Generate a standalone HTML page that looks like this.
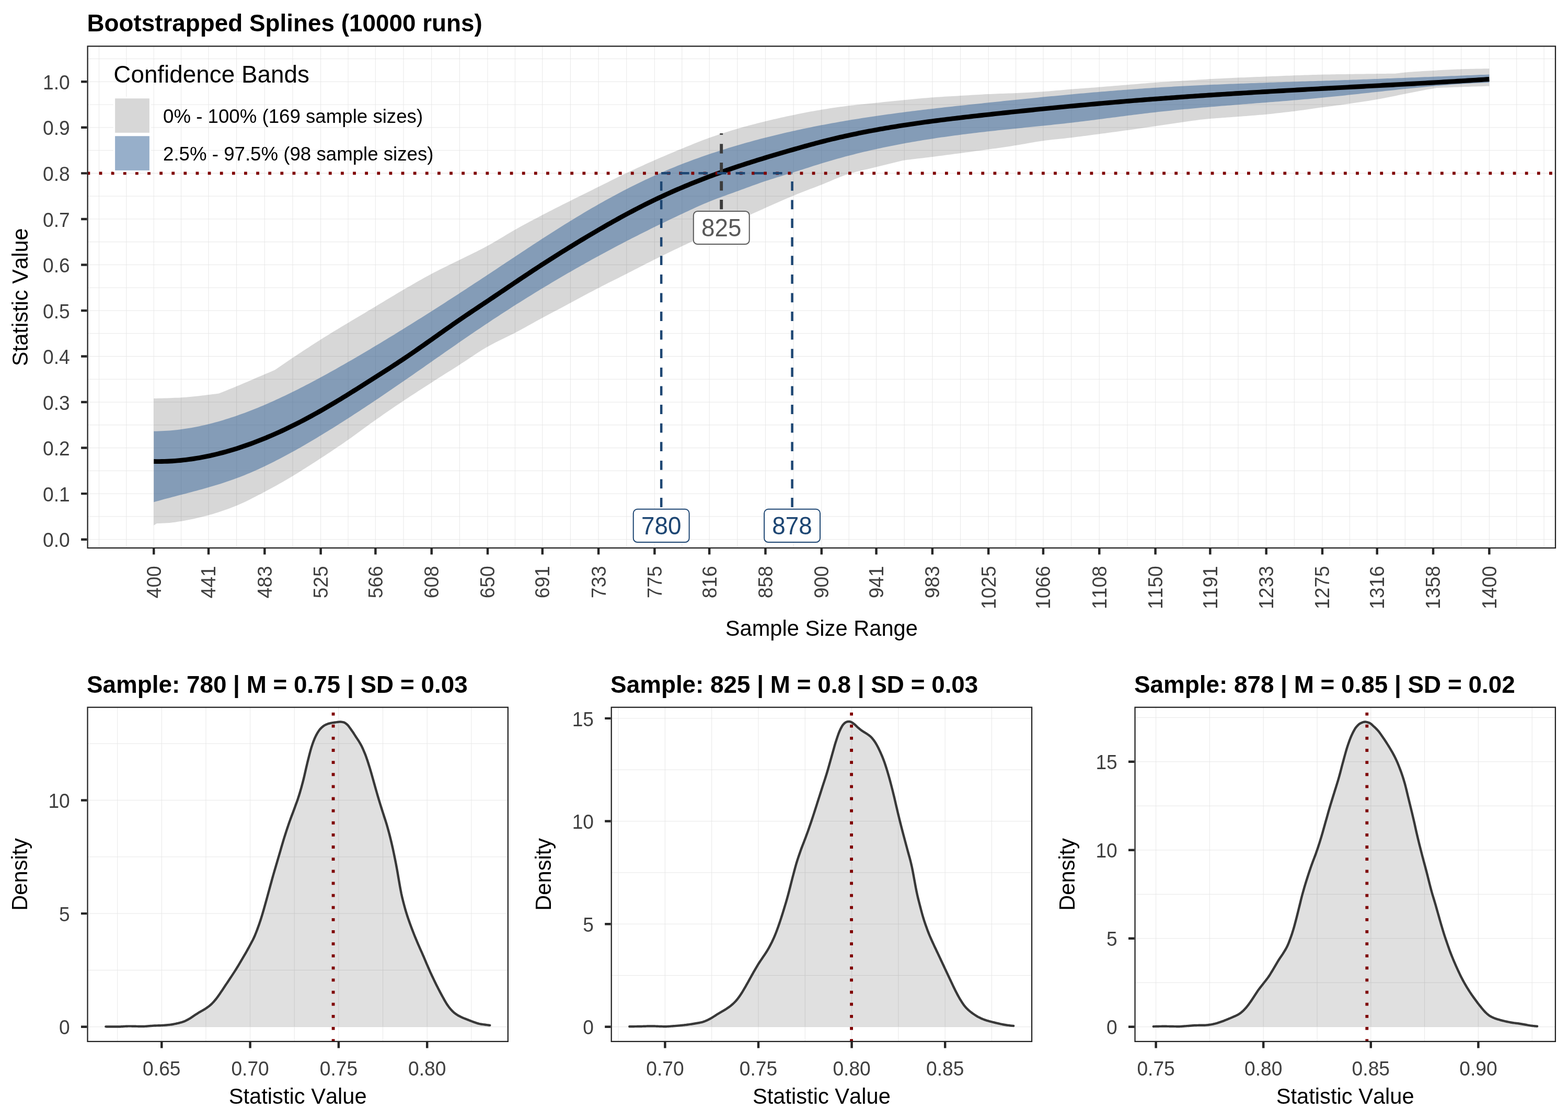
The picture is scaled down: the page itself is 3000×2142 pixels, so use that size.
<!DOCTYPE html>
<html lang="en">
<head>
<meta charset="utf-8">
<title>Bootstrapped Splines (10000 runs)</title>
<style>
html,body{margin:0;padding:0;background:#ffffff;}
body{width:3000px;height:2142px;overflow:hidden;font-family:"Liberation Sans",Arial,Helvetica,sans-serif;}
svg{display:block;}
svg text{font-family:"Liberation Sans",Arial,Helvetica,sans-serif;font-kerning:none;}
</style>
</head>
<body>
<svg xmlns="http://www.w3.org/2000/svg" width="3000" height="2142" viewBox="0 0 3000 2142">
<rect x="0" y="0" width="3000" height="2142" fill="#ffffff"/>
<defs>
<clipPath id="c0"><rect x="166.5" y="87.3" width="2810.6" height="961.8"/></clipPath>
</defs>
<g id="top-panel" clip-path="url(#c0)">
<path d="M189.5 87.3V1049.1M241.88 87.3V1049.1M294.25 87.3V1049.1M346.63 87.3V1049.1M399.01 87.3V1049.1M452.67 87.3V1049.1M506.33 87.3V1049.1M559.98 87.3V1049.1M613.64 87.3V1049.1M666.02 87.3V1049.1M718.4 87.3V1049.1M772.06 87.3V1049.1M825.71 87.3V1049.1M879.37 87.3V1049.1M933.03 87.3V1049.1M985.41 87.3V1049.1M1037.79 87.3V1049.1M1091.44 87.3V1049.1M1145.1 87.3V1049.1M1198.76 87.3V1049.1M1252.41 87.3V1049.1M1304.79 87.3V1049.1M1357.17 87.3V1049.1M1410.83 87.3V1049.1M1464.49 87.3V1049.1M1518.14 87.3V1049.1M1571.8 87.3V1049.1M1624.18 87.3V1049.1M1676.56 87.3V1049.1M1730.22 87.3V1049.1M1783.87 87.3V1049.1M1837.53 87.3V1049.1M1891.19 87.3V1049.1M1943.57 87.3V1049.1M1995.95 87.3V1049.1M2049.6 87.3V1049.1M2103.26 87.3V1049.1M2156.92 87.3V1049.1M2210.57 87.3V1049.1M2262.95 87.3V1049.1M2315.33 87.3V1049.1M2368.99 87.3V1049.1M2422.65 87.3V1049.1M2476.3 87.3V1049.1M2529.96 87.3V1049.1M2582.34 87.3V1049.1M2634.72 87.3V1049.1M2688.37 87.3V1049.1M2742.03 87.3V1049.1M2795.69 87.3V1049.1M2849.35 87.3V1049.1M2901.72 87.3V1049.1M2954.1 87.3V1049.1M166.5 1031.65H2977.1M166.5 987.88H2977.1M166.5 944.12H2977.1M166.5 900.35H2977.1M166.5 856.58H2977.1M166.5 812.81H2977.1M166.5 769.05H2977.1M166.5 725.28H2977.1M166.5 681.51H2977.1M166.5 637.74H2977.1M166.5 593.98H2977.1M166.5 550.21H2977.1M166.5 506.44H2977.1M166.5 462.67H2977.1M166.5 418.9H2977.1M166.5 375.14H2977.1M166.5 331.37H2977.1M166.5 287.6H2977.1M166.5 243.84H2977.1M166.5 200.07H2977.1M166.5 156.3H2977.1M166.5 112.53H2977.1" stroke="#e5e5e5" stroke-width="0.9" fill="none"/>
<polygon points="294.25,761.93 299.36,761.91 304.47,761.85 309.59,761.75 314.7,761.62 319.81,761.46 324.92,761.28 330.03,761.07 335.14,760.86 340.25,760.63 345.36,760.39 350.47,760.12 355.58,759.77 360.69,759.35 365.8,758.86 370.91,758.32 376.02,757.74 381.13,757.14 386.24,756.52 391.35,755.9 396.46,755.3 401.57,754.7 406.68,754.08 411.79,753.42 416.9,752.75 418.79,752.5 422.01,751.22 427.12,749.19 432.23,747.14 437.34,745.07 442.45,742.99 447.56,740.9 452.67,738.79 457.78,736.66 462.89,734.51 468,732.34 473.11,730.16 478.22,727.97 483.33,725.77 488.44,723.57 493.55,721.37 498.66,719.18 503.77,716.99 508.88,714.81 513.99,712.64 519.1,710.46 524.21,708.29 525.59,707.7 529.32,705.13 534.43,701.63 539.54,698.14 544.65,694.67 549.76,691.21 554.87,687.77 559.98,684.34 565.09,680.93 570.2,677.54 575.31,674.16 580.42,670.8 585.53,667.46 590.65,664.13 595.76,660.82 600.87,657.54 605.98,654.27 611.09,651.02 616.2,647.79 621.31,644.58 626.42,641.4 631.53,638.25 636.64,635.11 641.75,632 646.86,628.9 651.97,625.81 657.08,622.74 662.19,619.68 667.3,616.63 672.41,613.58 677.52,610.54 682.63,607.51 687.74,604.48 692.85,601.44 697.96,598.41 703.07,595.37 708.18,592.32 713.29,589.26 718.4,586.2 723.51,583.12 728.62,580.04 733.73,576.95 738.84,573.86 743.95,570.77 749.06,567.7 754.17,564.63 759.28,561.58 764.39,558.56 769.5,555.56 774.61,552.58 779.72,549.61 784.83,546.64 789.94,543.69 795.05,540.75 800.16,537.83 805.27,534.94 810.38,532.08 815.49,529.25 820.6,526.47 825.71,523.74 830.82,521.05 835.93,518.42 841.04,515.84 846.15,513.28 851.26,510.75 856.37,508.24 861.48,505.74 866.59,503.24 871.71,500.73 876.82,498.2 881.93,495.65 887.04,493.13 892.15,490.63 897.26,488.14 902.37,485.66 907.48,483.16 912.59,480.63 917.7,478.08 922.81,475.48 927.92,472.82 933.03,470.1 938.14,467.28 943.25,464.37 948.36,461.37 953.47,458.33 958.58,455.24 963.69,452.15 968.8,449.06 973.91,446 979.02,443 984.13,440.06 989.24,437.2 994.35,434.37 999.46,431.57 1004.57,428.79 1009.68,426.04 1014.79,423.3 1019.9,420.59 1025.01,417.89 1030.12,415.21 1035.23,412.53 1040.34,409.87 1045.45,407.22 1050.56,404.59 1055.67,401.97 1060.78,399.36 1065.89,396.76 1071,394.18 1076.11,391.6 1081.22,389.03 1086.33,386.47 1091.44,383.92 1096.55,381.37 1101.66,378.83 1106.77,376.29 1111.88,373.76 1116.99,371.23 1122.1,368.7 1127.21,366.16 1132.32,363.63 1137.43,361.1 1142.54,358.57 1147.65,356.03 1152.77,353.49 1157.88,350.94 1162.99,348.39 1168.1,345.85 1173.21,343.31 1178.32,340.79 1183.43,338.29 1188.54,335.8 1193.65,333.34 1198.76,330.9 1203.87,328.49 1208.98,326.09 1214.09,323.71 1219.2,321.35 1224.31,319.01 1229.42,316.68 1234.53,314.36 1239.64,312.07 1244.75,309.79 1249.86,307.53 1254.97,305.28 1260.08,303.05 1265.19,300.83 1270.3,298.63 1275.41,296.45 1280.52,294.28 1285.63,292.13 1290.74,289.99 1295.85,287.87 1300.96,285.77 1306.07,283.68 1311.18,281.59 1316.29,279.5 1321.4,277.42 1326.51,275.35 1331.62,273.3 1336.73,271.28 1341.84,269.29 1346.95,267.34 1352.06,265.44 1357.17,263.6 1362.28,261.8 1367.39,260.03 1372.5,258.3 1377.61,256.59 1382.72,254.91 1387.83,253.27 1392.94,251.66 1398.05,250.07 1403.16,248.52 1408.27,247 1413.38,245.51 1418.49,244.05 1423.6,242.61 1428.71,241.21 1433.83,239.83 1438.94,238.47 1444.05,237.13 1449.16,235.82 1454.27,234.53 1459.38,233.26 1464.49,232 1469.6,230.76 1474.71,229.54 1479.82,228.34 1484.93,227.15 1490.04,225.98 1495.15,224.83 1500.26,223.7 1505.37,222.59 1510.48,221.5 1515.59,220.43 1520.7,219.38 1525.81,218.34 1530.92,217.31 1536.03,216.3 1541.14,215.31 1546.25,214.33 1551.36,213.37 1556.47,212.44 1561.58,211.53 1566.69,210.65 1571.8,209.8 1576.91,208.97 1582.02,208.16 1587.13,207.36 1592.24,206.58 1597.35,205.82 1602.46,205.08 1607.57,204.36 1612.68,203.67 1617.79,203 1622.9,202.35 1628.01,201.74 1633.12,201.15 1638.23,200.59 1643.34,200.05 1648.45,199.52 1653.56,199.01 1658.67,198.5 1663.78,197.99 1668.89,197.48 1674,196.96 1679.11,196.43 1684.22,195.9 1689.33,195.37 1694.44,194.83 1699.55,194.3 1704.66,193.77 1709.77,193.24 1714.89,192.72 1720,192.21 1725.11,191.7 1730.22,191.21 1735.33,190.72 1740.44,190.22 1745.55,189.73 1750.66,189.24 1755.77,188.76 1760.88,188.29 1765.99,187.83 1771.1,187.39 1776.21,186.96 1781.32,186.56 1786.43,186.19 1791.54,185.84 1796.65,185.5 1801.76,185.17 1806.87,184.86 1811.98,184.56 1817.09,184.26 1822.2,183.97 1827.31,183.67 1832.42,183.38 1837.53,183.08 1842.64,182.77 1847.75,182.46 1852.86,182.15 1857.97,181.83 1863.08,181.52 1868.19,181.22 1873.3,180.92 1878.41,180.64 1883.52,180.37 1888.63,180.12 1893.74,179.89 1898.85,179.67 1903.96,179.48 1909.07,179.29 1914.18,179.11 1919.29,178.94 1924.4,178.76 1929.51,178.58 1934.62,178.39 1939.73,178.19 1944.84,177.96 1949.95,177.73 1955.06,177.49 1960.17,177.23 1965.28,176.97 1970.39,176.7 1975.5,176.42 1980.61,176.12 1985.72,175.81 1990.83,175.5 1995.95,175.16 2001.06,174.81 2006.17,174.42 2011.28,174 2016.39,173.57 2021.5,173.12 2026.61,172.66 2031.72,172.2 2036.83,171.74 2041.94,171.3 2047.05,170.87 2052.16,170.46 2057.27,170.06 2062.38,169.67 2067.49,169.28 2072.6,168.9 2077.71,168.53 2082.82,168.15 2087.93,167.77 2093.04,167.38 2098.15,166.99 2103.26,166.59 2108.37,166.19 2113.48,165.78 2118.59,165.36 2123.7,164.94 2128.81,164.52 2133.92,164.1 2139.03,163.68 2144.14,163.25 2149.25,162.83 2154.36,162.41 2159.47,161.99 2164.58,161.56 2169.69,161.13 2174.8,160.69 2179.91,160.25 2185.02,159.82 2190.13,159.39 2195.24,158.97 2200.35,158.57 2205.46,158.18 2210.57,157.8 2215.68,157.45 2220.79,157.1 2225.9,156.77 2231.01,156.45 2236.12,156.14 2241.23,155.83 2246.34,155.52 2251.45,155.21 2256.56,154.9 2261.67,154.59 2266.78,154.26 2271.89,153.93 2277.01,153.6 2282.12,153.27 2287.23,152.93 2292.34,152.6 2297.45,152.27 2302.56,151.96 2307.67,151.65 2312.78,151.35 2317.89,151.07 2323,150.79 2328.11,150.53 2333.22,150.26 2338.33,150.01 2343.44,149.76 2348.55,149.51 2353.66,149.27 2358.77,149.03 2363.88,148.8 2368.99,148.57 2374.1,148.35 2379.21,148.13 2384.32,147.91 2389.43,147.7 2394.54,147.49 2399.65,147.29 2404.76,147.08 2409.87,146.88 2414.98,146.68 2420.09,146.48 2425.2,146.27 2430.31,146.07 2435.42,145.86 2440.53,145.65 2445.64,145.45 2450.75,145.24 2455.86,145.04 2460.97,144.84 2466.08,144.65 2471.19,144.46 2476.3,144.29 2481.41,144.11 2486.52,143.93 2491.63,143.76 2496.74,143.59 2501.85,143.42 2506.96,143.26 2512.07,143.1 2517.18,142.95 2522.29,142.82 2527.4,142.69 2532.51,142.58 2537.62,142.48 2542.73,142.38 2547.84,142.29 2552.95,142.2 2558.07,142.12 2563.18,142.04 2568.29,141.96 2573.4,141.89 2578.51,141.81 2583.62,141.74 2588.73,141.67 2593.84,141.6 2598.95,141.53 2604.06,141.47 2609.17,141.4 2614.28,141.34 2619.39,141.28 2624.5,141.22 2629.61,141.16 2634.72,141.1 2639.83,141.04 2644.94,140.98 2650.05,140.92 2655.16,140.86 2660.27,140.8 2665.38,140.75 2669.72,140.7 2670.49,140.6 2675.6,139.92 2680.71,139.27 2685.82,138.7 2690.93,138.24 2696.04,137.82 2701.15,137.43 2706.26,137.07 2711.37,136.73 2716.48,136.4 2721.59,136.1 2726.7,135.8 2731.81,135.52 2736.92,135.23 2742.03,134.95 2747.14,134.66 2752.25,134.36 2757.36,134.07 2762.47,133.79 2767.58,133.51 2772.69,133.25 2777.8,133 2782.91,132.77 2788.02,132.56 2793.13,132.39 2798.24,132.23 2803.35,132.09 2808.46,131.95 2813.57,131.81 2818.68,131.69 2823.79,131.57 2828.9,131.47 2834.01,131.38 2839.13,131.3 2844.24,131.24 2849.35,131.2 2849.35,164.7 2844.24,164.85 2839.13,164.99 2834.01,165.15 2828.9,165.3 2823.79,165.46 2818.68,165.62 2813.57,165.78 2808.46,165.95 2803.35,166.12 2798.24,166.29 2793.13,166.46 2788.02,166.64 2782.91,166.82 2777.8,167 2772.69,167.19 2767.58,167.38 2762.47,167.57 2757.36,167.77 2752.25,167.97 2748.93,168.1 2747.14,168.39 2742.03,169.23 2736.92,170.13 2731.81,171.07 2726.7,172.03 2721.59,173.01 2716.48,174 2711.37,175.01 2706.26,176.03 2701.15,177.04 2696.04,178.06 2690.93,179.06 2685.82,180.06 2680.71,181.08 2675.6,182.11 2670.49,183.15 2665.38,184.2 2660.27,185.24 2655.16,186.26 2650.05,187.27 2644.94,188.25 2639.83,189.2 2634.72,190.11 2629.61,190.98 2624.5,191.83 2619.39,192.66 2614.28,193.48 2609.17,194.27 2604.06,195.05 2598.95,195.82 2593.84,196.57 2588.73,197.32 2583.62,198.06 2578.51,198.79 2573.4,199.5 2568.29,200.2 2563.18,200.88 2558.07,201.56 2552.95,202.23 2547.84,202.9 2542.73,203.57 2537.62,204.25 2532.51,204.93 2527.4,205.62 2522.29,206.33 2517.18,207.05 2512.07,207.77 2506.96,208.49 2501.85,209.22 2496.74,209.93 2491.63,210.63 2486.52,211.32 2481.41,211.99 2476.3,212.64 2471.19,213.27 2466.08,213.89 2460.97,214.51 2455.86,215.11 2450.75,215.71 2445.64,216.29 2440.53,216.85 2435.42,217.4 2430.31,217.93 2425.2,218.44 2420.09,218.92 2414.98,219.39 2409.87,219.83 2404.76,220.27 2399.65,220.69 2394.54,221.1 2389.43,221.5 2384.32,221.9 2379.21,222.29 2374.1,222.68 2368.99,223.08 2363.88,223.47 2358.77,223.84 2353.66,224.2 2348.55,224.56 2343.44,224.92 2338.33,225.28 2333.22,225.64 2328.11,226.02 2323,226.41 2317.89,226.82 2312.78,227.25 2307.67,227.72 2302.56,228.22 2297.45,228.72 2296.68,228.8 2292.34,229.42 2287.23,230.14 2282.12,230.87 2277.01,231.6 2271.89,232.34 2266.78,233.07 2261.67,233.81 2256.56,234.56 2251.45,235.3 2246.34,236.06 2241.23,236.81 2236.12,237.57 2231.01,238.32 2225.9,239.07 2220.79,239.83 2215.68,240.57 2210.57,241.32 2205.46,242.06 2200.35,242.8 2195.24,243.54 2190.13,244.28 2185.02,245.02 2179.91,245.76 2174.8,246.49 2169.69,247.21 2164.58,247.94 2159.47,248.65 2154.36,249.37 2149.25,250.07 2144.14,250.77 2139.03,251.47 2133.92,252.17 2128.81,252.86 2123.7,253.54 2118.59,254.23 2113.48,254.91 2108.37,255.59 2103.26,256.26 2098.15,256.94 2093.04,257.62 2087.93,258.29 2082.82,258.97 2077.71,259.64 2072.6,260.3 2067.49,260.96 2062.38,261.61 2057.27,262.25 2052.16,262.88 2047.05,263.49 2041.94,264.07 2036.83,264.63 2031.72,265.17 2026.61,265.71 2021.5,266.25 2016.39,266.79 2011.28,267.35 2006.17,267.94 2001.06,268.57 1995.95,269.23 1990.83,269.96 1985.72,270.75 1980.61,271.59 1975.5,272.47 1970.39,273.37 1965.28,274.29 1960.17,275.2 1955.06,276.11 1949.95,276.98 1944.84,277.82 1939.73,278.62 1934.62,279.4 1929.51,280.17 1924.4,280.93 1919.29,281.68 1914.18,282.43 1909.07,283.16 1903.96,283.89 1898.85,284.62 1893.74,285.34 1888.63,286.06 1883.52,286.77 1878.41,287.48 1873.3,288.17 1868.19,288.87 1863.08,289.56 1857.97,290.24 1852.86,290.92 1847.75,291.61 1842.64,292.29 1837.53,292.97 1832.42,293.65 1827.31,294.33 1822.2,295.01 1817.09,295.68 1811.98,296.36 1806.87,297.03 1801.76,297.7 1796.65,298.36 1791.54,299.02 1786.43,299.68 1781.32,300.32 1776.21,300.94 1771.1,301.55 1765.99,302.14 1760.88,302.73 1755.77,303.32 1750.66,303.92 1745.55,304.54 1740.44,305.19 1735.33,305.87 1730.22,306.59 1725.87,307.3 1725.11,307.49 1720,308.73 1714.89,309.97 1709.77,311.22 1704.66,312.47 1699.55,313.73 1694.44,314.98 1689.33,316.24 1684.22,317.5 1679.11,318.77 1674,320.03 1668.89,321.25 1663.78,322.45 1658.67,323.64 1653.56,324.83 1648.45,326.04 1643.34,327.28 1638.23,328.58 1633.12,329.94 1628.01,331.38 1622.9,332.92 1617.79,334.62 1612.68,336.45 1607.57,338.41 1602.46,340.45 1597.35,342.56 1592.24,344.72 1587.13,346.88 1582.02,349.04 1576.91,351.15 1571.8,353.2 1566.69,355.2 1561.58,357.18 1556.47,359.15 1551.36,361.11 1546.25,363.08 1541.14,365.05 1536.03,367.04 1530.92,369.05 1525.81,371.08 1520.7,373.15 1515.59,375.26 1510.48,377.4 1505.37,379.58 1500.26,381.78 1495.15,384 1490.04,386.24 1484.93,388.5 1479.82,390.77 1474.71,393.04 1469.6,395.32 1464.49,397.6 1459.38,399.88 1454.27,402.16 1449.16,404.45 1444.05,406.74 1438.94,409.03 1433.83,411.33 1428.71,413.63 1423.6,415.94 1418.49,418.25 1413.38,420.57 1408.27,422.89 1403.16,425.22 1398.05,427.55 1392.94,429.88 1387.83,432.22 1382.72,434.56 1377.61,436.91 1372.5,439.26 1367.39,441.62 1362.28,443.98 1357.17,446.35 1352.06,448.72 1346.95,451.1 1341.84,453.48 1336.73,455.87 1331.62,458.26 1326.51,460.66 1321.4,463.06 1316.29,465.47 1311.18,467.88 1306.07,470.29 1300.96,472.72 1295.85,475.15 1290.74,477.6 1285.63,480.05 1280.52,482.52 1275.41,485 1270.3,487.49 1265.19,489.99 1260.08,492.5 1254.97,495.03 1249.86,497.57 1244.75,500.14 1239.64,502.73 1234.53,505.34 1229.42,507.96 1224.31,510.59 1219.2,513.23 1214.09,515.86 1208.98,518.49 1203.87,521.1 1198.76,523.7 1193.65,526.28 1188.54,528.84 1183.43,531.4 1178.32,533.94 1173.21,536.49 1168.1,539.04 1162.99,541.6 1157.88,544.17 1152.77,546.76 1147.65,549.38 1142.54,552.03 1137.43,554.7 1132.32,557.4 1127.21,560.12 1122.1,562.86 1116.99,565.61 1111.88,568.36 1106.77,571.11 1101.66,573.87 1096.55,576.61 1091.44,579.34 1086.33,582.06 1081.22,584.78 1076.11,587.49 1071,590.19 1065.89,592.9 1060.78,595.61 1055.67,598.33 1050.56,601.05 1045.45,603.78 1040.34,606.52 1035.23,609.28 1030.12,612.06 1025.01,614.87 1019.9,617.69 1014.79,620.52 1009.68,623.34 1004.57,626.15 999.46,628.95 994.35,631.72 989.24,634.46 984.13,637.15 979.02,639.77 973.91,642.32 968.8,644.82 963.69,647.3 958.58,649.78 953.47,652.29 948.36,654.84 943.25,657.46 938.14,660.17 933.03,663 927.92,665.97 922.81,669.06 917.7,672.27 912.59,675.56 907.48,678.91 902.37,682.31 897.26,685.72 892.15,689.13 887.04,692.52 881.93,695.86 876.82,699.13 871.71,702.39 866.59,705.64 861.48,708.88 856.37,712.12 851.26,715.36 846.15,718.6 841.04,721.85 835.93,725.1 830.82,728.37 825.71,731.65 820.6,734.93 815.49,738.22 810.38,741.51 805.27,744.8 800.16,748.11 795.05,751.42 789.94,754.75 784.83,758.09 779.72,761.45 774.61,764.84 769.5,768.25 764.39,771.67 759.28,775.11 754.17,778.58 749.06,782.05 743.95,785.55 738.84,789.06 733.73,792.59 728.62,796.14 723.51,799.71 718.4,803.3 713.29,806.93 708.18,810.61 703.07,814.33 697.96,818.07 692.85,821.83 687.74,825.59 682.63,829.33 677.52,833.04 672.41,836.7 667.3,840.32 662.19,843.87 657.08,847.39 651.97,850.89 646.86,854.36 641.75,857.81 636.64,861.23 631.53,864.63 626.42,868.02 621.31,871.38 616.2,874.73 611.09,878.07 605.98,881.4 600.87,884.73 595.76,888.04 590.65,891.34 585.53,894.62 580.42,897.86 575.31,901.07 570.2,904.24 565.09,907.37 559.98,910.44 554.87,913.47 549.76,916.47 544.65,919.44 539.54,922.38 534.43,925.28 529.32,928.15 524.21,930.99 519.1,933.78 513.99,936.54 508.88,939.26 503.77,941.94 498.66,944.63 493.55,947.32 488.44,949.99 483.33,952.62 478.22,955.21 473.11,957.74 468,960.19 462.89,962.55 457.78,964.8 452.67,966.92 447.56,968.96 442.45,970.95 437.34,972.88 432.23,974.76 427.12,976.58 422.01,978.33 416.9,980.01 411.79,981.62 406.68,983.15 401.57,984.61 396.46,985.98 391.35,987.31 386.24,988.59 381.13,989.84 376.02,991.03 370.91,992.18 365.8,993.26 360.69,994.3 355.58,995.27 350.47,996.18 345.36,997.02 340.25,997.85 335.14,998.64 330.03,999.34 324.92,999.88 319.81,1000.23 314.7,1000.53 309.59,1000.78 304.47,1000.95 300.13,1001 299.36,1001.5 294.25,1004.8" fill="rgba(0,0,0,0.155)"/>
<polygon points="294.25,824.7 299.36,824.66 304.47,824.54 309.59,824.36 314.7,824.11 319.81,823.8 324.92,823.42 330.03,822.97 335.14,822.47 340.25,821.9 345.36,821.27 350.47,820.58 355.58,819.82 360.69,819.01 365.8,818.14 370.91,817.21 376.02,816.23 381.13,815.19 386.24,814.09 391.35,812.94 396.46,811.73 401.57,810.47 406.68,809.16 411.79,807.8 416.9,806.39 422.01,804.92 427.12,803.41 432.23,801.85 437.34,800.24 442.45,798.59 447.56,796.89 452.67,795.14 457.78,793.35 462.89,791.52 468,789.65 473.11,787.73 478.22,785.77 483.33,783.77 488.44,781.73 493.55,779.65 498.66,777.54 503.77,775.39 508.88,773.2 513.99,770.97 519.1,768.71 524.21,766.42 529.32,764.1 534.43,761.74 539.54,759.35 544.65,756.93 549.76,754.48 554.87,752 559.98,749.49 565.09,746.95 570.2,744.39 575.31,741.8 580.42,739.19 585.53,736.55 590.65,733.89 595.76,731.2 600.87,728.5 605.98,725.77 611.09,723.02 616.2,720.25 621.31,717.47 626.42,714.66 631.53,711.84 636.64,709 641.75,706.14 646.86,703.26 651.97,700.37 657.08,697.47 662.19,694.55 667.3,691.61 672.41,688.66 677.52,685.7 682.63,682.72 687.74,679.73 692.85,676.73 697.96,673.71 703.07,670.69 708.18,667.65 713.29,664.6 718.4,661.54 723.51,658.48 728.62,655.4 733.73,652.31 738.84,649.22 743.95,646.11 749.06,643 754.17,639.88 759.28,636.74 764.39,633.6 769.5,630.45 774.61,627.29 779.72,624.12 784.83,620.94 789.94,617.76 795.05,614.56 800.16,611.36 805.27,608.15 810.38,604.93 815.49,601.7 820.6,598.46 825.71,595.22 830.82,591.97 835.93,588.71 841.04,585.44 846.15,582.17 851.26,578.89 856.37,575.6 861.48,572.3 866.59,569 871.71,565.7 876.82,562.38 881.93,559.06 887.04,555.73 892.15,552.4 897.26,549.06 902.37,545.72 907.48,542.37 912.59,539.01 917.7,535.65 922.81,532.29 927.92,528.92 933.03,525.54 938.14,522.16 943.25,518.78 948.36,515.39 953.47,512 958.58,508.61 963.69,505.22 968.8,501.83 973.91,498.44 979.02,495.05 984.13,491.66 989.24,488.28 994.35,484.9 999.46,481.52 1004.57,478.15 1009.68,474.79 1014.79,471.44 1019.9,468.09 1025.01,464.75 1030.12,461.42 1035.23,458.11 1040.34,454.8 1045.45,451.51 1050.56,448.23 1055.67,444.96 1060.78,441.71 1065.89,438.47 1071,435.25 1076.11,432.05 1081.22,428.86 1086.33,425.69 1091.44,422.54 1096.55,419.42 1101.66,416.31 1106.77,413.22 1111.88,410.16 1116.99,407.12 1122.1,404.1 1127.21,401.1 1132.32,398.12 1137.43,395.17 1142.54,392.25 1147.65,389.34 1152.77,386.46 1157.88,383.61 1162.99,380.78 1168.1,377.98 1173.21,375.2 1178.32,372.45 1183.43,369.73 1188.54,367.03 1193.65,364.37 1198.76,361.73 1203.87,359.12 1208.98,356.53 1214.09,353.98 1219.2,351.46 1224.31,348.96 1229.42,346.5 1234.53,344.07 1239.64,341.67 1244.75,339.3 1249.86,336.96 1254.97,334.66 1260.08,332.39 1265.19,330.15 1270.3,327.94 1275.41,325.76 1280.52,323.62 1285.63,321.5 1290.74,319.41 1295.85,317.36 1300.96,315.33 1306.07,313.33 1311.18,311.36 1316.29,309.42 1321.4,307.5 1326.51,305.61 1331.62,303.75 1336.73,301.91 1341.84,300.1 1346.95,298.31 1352.06,296.55 1357.17,294.81 1362.28,293.1 1367.39,291.41 1372.5,289.74 1377.61,288.1 1382.72,286.48 1387.83,284.88 1392.94,283.3 1398.05,281.74 1403.16,280.2 1408.27,278.68 1413.38,277.18 1418.49,275.71 1423.6,274.25 1428.71,272.8 1433.83,271.38 1438.94,269.98 1444.05,268.59 1449.16,267.22 1454.27,265.87 1459.38,264.54 1464.49,263.23 1469.6,261.93 1474.71,260.65 1479.82,259.39 1484.93,258.14 1490.04,256.91 1495.15,255.7 1500.26,254.5 1505.37,253.32 1510.48,252.16 1515.59,251.01 1520.7,249.88 1525.81,248.76 1530.92,247.66 1536.03,246.57 1541.14,245.5 1546.25,244.44 1551.36,243.4 1556.47,242.37 1561.58,241.36 1566.69,240.36 1571.8,239.37 1576.91,238.4 1582.02,237.44 1587.13,236.49 1592.24,235.56 1597.35,234.64 1602.46,233.73 1607.57,232.84 1612.68,231.95 1617.79,231.08 1622.9,230.22 1628.01,229.37 1633.12,228.54 1638.23,227.71 1643.34,226.9 1648.45,226.09 1653.56,225.3 1658.67,224.52 1663.78,223.74 1668.89,222.98 1674,222.23 1679.11,221.48 1684.22,220.75 1689.33,220.02 1694.44,219.3 1699.55,218.6 1704.66,217.9 1709.77,217.2 1714.89,216.52 1720,215.84 1725.11,215.18 1730.22,214.51 1735.33,213.86 1740.44,213.21 1745.55,212.57 1750.66,211.94 1755.77,211.31 1760.88,210.69 1765.99,210.08 1771.1,209.47 1776.21,208.87 1781.32,208.27 1786.43,207.67 1791.54,207.09 1796.65,206.5 1801.76,205.92 1806.87,205.35 1811.98,204.78 1817.09,204.21 1822.2,203.65 1827.31,203.09 1832.42,202.53 1837.53,201.98 1842.64,201.43 1847.75,200.88 1852.86,200.33 1857.97,199.79 1863.08,199.25 1868.19,198.71 1873.3,198.17 1878.41,197.63 1883.52,197.1 1888.63,196.56 1893.74,196.03 1898.85,195.5 1903.96,194.97 1909.07,194.43 1914.18,193.9 1919.29,193.37 1924.4,192.85 1929.51,192.32 1934.62,191.79 1939.73,191.27 1944.84,190.75 1949.95,190.23 1955.06,189.71 1960.17,189.19 1965.28,188.67 1970.39,188.16 1975.5,187.65 1980.61,187.13 1985.72,186.63 1990.83,186.12 1995.95,185.62 2001.06,185.12 2006.17,184.62 2011.28,184.12 2016.39,183.63 2021.5,183.14 2026.61,182.65 2031.72,182.17 2036.83,181.69 2041.94,181.21 2047.05,180.73 2052.16,180.26 2057.27,179.79 2062.38,179.33 2067.49,178.86 2072.6,178.41 2077.71,177.95 2082.82,177.5 2087.93,177.06 2093.04,176.61 2098.15,176.18 2103.26,175.74 2108.37,175.31 2113.48,174.88 2118.59,174.46 2123.7,174.05 2128.81,173.63 2133.92,173.23 2139.03,172.82 2144.14,172.43 2149.25,172.03 2154.36,171.65 2159.47,171.26 2164.58,170.88 2169.69,170.51 2174.8,170.15 2179.91,169.78 2185.02,169.43 2190.13,169.08 2195.24,168.73 2200.35,168.39 2205.46,168.06 2210.57,167.73 2215.68,167.41 2220.79,167.1 2225.9,166.79 2231.01,166.48 2236.12,166.19 2241.23,165.89 2246.34,165.61 2251.45,165.32 2256.56,165.05 2261.67,164.77 2266.78,164.51 2271.89,164.25 2277.01,163.99 2282.12,163.74 2287.23,163.49 2292.34,163.24 2297.45,163 2302.56,162.77 2307.67,162.54 2312.78,162.31 2317.89,162.08 2323,161.86 2328.11,161.65 2333.22,161.43 2338.33,161.22 2343.44,161.01 2348.55,160.81 2353.66,160.61 2358.77,160.41 2363.88,160.21 2368.99,160.02 2374.1,159.83 2379.21,159.64 2384.32,159.46 2389.43,159.27 2394.54,159.09 2399.65,158.91 2404.76,158.73 2409.87,158.56 2414.98,158.38 2420.09,158.21 2425.2,158.03 2430.31,157.86 2435.42,157.69 2440.53,157.52 2445.64,157.36 2450.75,157.19 2455.86,157.02 2460.97,156.86 2466.08,156.69 2471.19,156.53 2476.3,156.36 2481.41,156.2 2486.52,156.03 2491.63,155.86 2496.74,155.7 2501.85,155.53 2506.96,155.37 2512.07,155.2 2517.18,155.03 2522.29,154.86 2527.4,154.69 2532.51,154.52 2537.62,154.35 2542.73,154.18 2547.84,154 2552.95,153.83 2558.07,153.65 2563.18,153.47 2568.29,153.29 2573.4,153.11 2578.51,152.93 2583.62,152.75 2588.73,152.57 2593.84,152.39 2598.95,152.2 2604.06,152.02 2609.17,151.83 2614.28,151.64 2619.39,151.46 2624.5,151.27 2629.61,151.08 2634.72,150.89 2639.83,150.7 2644.94,150.51 2650.05,150.32 2655.16,150.12 2660.27,149.93 2665.38,149.74 2670.49,149.54 2675.6,149.35 2680.71,149.15 2685.82,148.95 2690.93,148.76 2696.04,148.56 2701.15,148.36 2706.26,148.16 2711.37,147.96 2716.48,147.76 2721.59,147.56 2726.7,147.36 2731.81,147.16 2736.92,146.96 2742.03,146.76 2747.14,146.56 2752.25,146.36 2757.36,146.15 2762.47,145.95 2767.58,145.75 2772.69,145.55 2777.8,145.34 2782.91,145.14 2788.02,144.93 2793.13,144.73 2798.24,144.53 2803.35,144.32 2808.46,144.12 2813.57,143.91 2818.68,143.71 2823.79,143.51 2828.9,143.3 2834.01,143.1 2839.13,142.89 2844.24,142.69 2849.35,142.49 2849.35,157.79 2844.24,157.98 2839.13,158.19 2834.01,158.42 2828.9,158.66 2823.79,158.92 2818.68,159.19 2813.57,159.48 2808.46,159.78 2803.35,160.1 2798.24,160.43 2793.13,160.77 2788.02,161.12 2782.91,161.49 2777.8,161.87 2772.69,162.26 2767.58,162.66 2762.47,163.08 2757.36,163.5 2752.25,163.93 2747.14,164.37 2742.03,164.82 2736.92,165.29 2731.81,165.75 2726.7,166.23 2721.59,166.72 2716.48,167.21 2711.37,167.71 2706.26,168.21 2701.15,168.72 2696.04,169.24 2690.93,169.76 2685.82,170.29 2680.71,170.82 2675.6,171.36 2670.49,171.9 2665.38,172.44 2660.27,172.99 2655.16,173.54 2650.05,174.09 2644.94,174.65 2639.83,175.2 2634.72,175.76 2629.61,176.32 2624.5,176.87 2619.39,177.43 2614.28,177.99 2609.17,178.55 2604.06,179.1 2598.95,179.65 2593.84,180.21 2588.73,180.76 2583.62,181.3 2578.51,181.85 2573.4,182.39 2568.29,182.92 2563.18,183.46 2558.07,183.98 2552.95,184.51 2547.84,185.02 2542.73,185.53 2537.62,186.04 2532.51,186.54 2527.4,187.03 2522.29,187.51 2517.18,187.99 2512.07,188.46 2506.96,188.93 2501.85,189.39 2496.74,189.84 2491.63,190.29 2486.52,190.74 2481.41,191.17 2476.3,191.61 2471.19,192.04 2466.08,192.46 2460.97,192.89 2455.86,193.31 2450.75,193.72 2445.64,194.13 2440.53,194.54 2435.42,194.95 2430.31,195.36 2425.2,195.76 2420.09,196.16 2414.98,196.56 2409.87,196.96 2404.76,197.36 2399.65,197.76 2394.54,198.16 2389.43,198.56 2384.32,198.96 2379.21,199.36 2374.1,199.76 2368.99,200.16 2363.88,200.56 2358.77,200.97 2353.66,201.38 2348.55,201.79 2343.44,202.2 2338.33,202.61 2333.22,203.03 2328.11,203.45 2323,203.88 2317.89,204.3 2312.78,204.74 2307.67,205.17 2302.56,205.62 2297.45,206.06 2292.34,206.52 2287.23,206.97 2282.12,207.44 2277.01,207.91 2271.89,208.38 2266.78,208.87 2261.67,209.36 2256.56,209.85 2251.45,210.36 2246.34,210.87 2241.23,211.39 2236.12,211.92 2231.01,212.45 2225.9,213 2220.79,213.55 2215.68,214.12 2210.57,214.69 2205.46,215.28 2200.35,215.87 2195.24,216.47 2190.13,217.08 2185.02,217.7 2179.91,218.32 2174.8,218.95 2169.69,219.59 2164.58,220.23 2159.47,220.87 2154.36,221.52 2149.25,222.17 2144.14,222.83 2139.03,223.49 2133.92,224.15 2128.81,224.81 2123.7,225.46 2118.59,226.12 2113.48,226.78 2108.37,227.44 2103.26,228.09 2098.15,228.75 2093.04,229.4 2087.93,230.04 2082.82,230.68 2077.71,231.32 2072.6,231.94 2067.49,232.57 2062.38,233.18 2057.27,233.79 2052.16,234.39 2047.05,234.98 2041.94,235.56 2036.83,236.14 2031.72,236.71 2026.61,237.26 2021.5,237.82 2016.39,238.36 2011.28,238.9 2006.17,239.44 2001.06,239.97 1995.95,240.5 1990.83,241.02 1985.72,241.54 1980.61,242.06 1975.5,242.58 1970.39,243.09 1965.28,243.61 1960.17,244.12 1955.06,244.63 1949.95,245.15 1944.84,245.67 1939.73,246.18 1934.62,246.7 1929.51,247.23 1924.4,247.75 1919.29,248.29 1914.18,248.82 1909.07,249.36 1903.96,249.91 1898.85,250.46 1893.74,251.02 1888.63,251.59 1883.52,252.16 1878.41,252.74 1873.3,253.33 1868.19,253.93 1863.08,254.54 1857.97,255.16 1852.86,255.78 1847.75,256.42 1842.64,257.06 1837.53,257.72 1832.42,258.38 1827.31,259.06 1822.2,259.75 1817.09,260.44 1811.98,261.15 1806.87,261.88 1801.76,262.61 1796.65,263.35 1791.54,264.11 1786.43,264.89 1781.32,265.67 1776.21,266.47 1771.1,267.28 1765.99,268.11 1760.88,268.95 1755.77,269.8 1750.66,270.67 1745.55,271.55 1740.44,272.45 1735.33,273.37 1730.22,274.3 1725.11,275.25 1720,276.21 1714.89,277.19 1709.77,278.19 1704.66,279.2 1699.55,280.24 1694.44,281.29 1689.33,282.35 1684.22,283.44 1679.11,284.55 1674,285.67 1668.89,286.81 1663.78,287.98 1658.67,289.16 1653.56,290.36 1648.45,291.59 1643.34,292.83 1638.23,294.09 1633.12,295.38 1628.01,296.69 1622.9,298.02 1617.79,299.37 1612.68,300.74 1607.57,302.14 1602.46,303.55 1597.35,304.99 1592.24,306.46 1587.13,307.95 1582.02,309.46 1576.91,311 1571.8,312.56 1566.69,314.14 1561.58,315.75 1556.47,317.37 1551.36,319 1546.25,320.64 1541.14,322.28 1536.03,323.93 1530.92,325.56 1525.81,327.19 1520.7,328.8 1515.59,330.39 1510.48,331.96 1505.37,333.53 1500.26,335.08 1495.15,336.64 1490.04,338.21 1484.93,339.79 1479.82,341.38 1474.71,343.01 1469.6,344.66 1464.49,346.35 1459.38,348.09 1454.27,349.86 1449.16,351.67 1444.05,353.5 1438.94,355.35 1433.83,357.22 1428.71,359.1 1423.6,360.98 1418.49,362.86 1413.38,364.73 1408.27,366.59 1403.16,368.43 1398.05,370.27 1392.94,372.1 1387.83,373.95 1382.72,375.81 1377.61,377.7 1372.5,379.61 1367.39,381.56 1362.28,383.56 1357.17,385.61 1352.06,387.71 1346.95,389.87 1341.84,392.07 1336.73,394.32 1331.62,396.61 1326.51,398.93 1321.4,401.28 1316.29,403.65 1311.18,406.03 1306.07,408.43 1300.96,410.84 1295.85,413.25 1290.74,415.67 1285.63,418.09 1280.52,420.53 1275.41,422.97 1270.3,425.43 1265.19,427.89 1260.08,430.36 1254.97,432.85 1249.86,435.35 1244.75,437.87 1239.64,440.39 1234.53,442.93 1229.42,445.49 1224.31,448.05 1219.2,450.64 1214.09,453.23 1208.98,455.84 1203.87,458.46 1198.76,461.09 1193.65,463.74 1188.54,466.41 1183.43,469.08 1178.32,471.77 1173.21,474.48 1168.1,477.2 1162.99,479.93 1157.88,482.67 1152.77,485.43 1147.65,488.21 1142.54,491 1137.43,493.8 1132.32,496.61 1127.21,499.44 1122.1,502.29 1116.99,505.15 1111.88,508.02 1106.77,510.91 1101.66,513.81 1096.55,516.73 1091.44,519.66 1086.33,522.6 1081.22,525.56 1076.11,528.54 1071,531.53 1065.89,534.53 1060.78,537.55 1055.67,540.58 1050.56,543.63 1045.45,546.69 1040.34,549.77 1035.23,552.86 1030.12,555.97 1025.01,559.09 1019.9,562.22 1014.79,565.38 1009.68,568.54 1004.57,571.73 999.46,574.92 994.35,578.13 989.24,581.36 984.13,584.6 979.02,587.86 973.91,591.14 968.8,594.42 963.69,597.73 958.58,601.05 953.47,604.38 948.36,607.73 943.25,611.1 938.14,614.48 933.03,617.88 927.92,621.29 922.81,624.72 917.7,628.16 912.59,631.61 907.48,635.08 902.37,638.56 897.26,642.05 892.15,645.55 887.04,649.06 881.93,652.58 876.82,656.11 871.71,659.65 866.59,663.19 861.48,666.74 856.37,670.29 851.26,673.85 846.15,677.41 841.04,680.97 835.93,684.54 830.82,688.11 825.71,691.68 820.6,695.25 815.49,698.82 810.38,702.39 805.27,705.95 800.16,709.52 795.05,713.07 789.94,716.63 784.83,720.18 779.72,723.72 774.61,727.26 769.5,730.79 764.39,734.31 759.28,737.83 754.17,741.33 749.06,744.83 743.95,748.31 738.84,751.79 733.73,755.26 728.62,758.71 723.51,762.16 718.4,765.59 713.29,769.01 708.18,772.42 703.07,775.82 697.96,779.2 692.85,782.57 687.74,785.92 682.63,789.27 677.52,792.59 672.41,795.91 667.3,799.2 662.19,802.48 657.08,805.75 651.97,809 646.86,812.23 641.75,815.44 636.64,818.63 631.53,821.81 626.42,824.97 621.31,828.11 616.2,831.23 611.09,834.33 605.98,837.41 600.87,840.47 595.76,843.5 590.65,846.52 585.53,849.5 580.42,852.46 575.31,855.39 570.2,858.3 565.09,861.17 559.98,864.02 554.87,866.83 549.76,869.61 544.65,872.35 539.54,875.06 534.43,877.73 529.32,880.37 524.21,882.96 519.1,885.52 513.99,888.04 508.88,890.51 503.77,892.94 498.66,895.33 493.55,897.67 488.44,899.96 483.33,902.21 478.22,904.41 473.11,906.55 468,908.65 462.89,910.69 457.78,912.68 452.67,914.62 447.56,916.5 442.45,918.33 437.34,920.11 432.23,921.84 427.12,923.52 422.01,925.16 416.9,926.77 411.79,928.33 406.68,929.86 401.57,931.36 396.46,932.84 391.35,934.28 386.24,935.7 381.13,937.1 376.02,938.48 370.91,939.85 365.8,941.2 360.69,942.55 355.58,943.88 350.47,945.21 345.36,946.54 340.25,947.87 335.14,949.2 330.03,950.54 324.92,951.89 319.81,953.25 314.7,954.62 309.59,956.01 304.47,957.41 299.36,958.84 294.25,960.3" fill="rgba(59,104,155,0.53)"/>
<polyline points="294.25,882.53 299.36,882.59 304.47,882.6 309.59,882.54 314.7,882.42 319.81,882.24 324.92,882 330.03,881.7 335.14,881.35 340.25,880.93 345.36,880.46 350.47,879.92 355.58,879.33 360.69,878.69 365.8,877.99 370.91,877.23 376.02,876.42 381.13,875.55 386.24,874.63 391.35,873.65 396.46,872.62 401.57,871.54 406.68,870.4 411.79,869.21 416.9,867.97 422.01,866.68 427.12,865.34 432.23,863.95 437.34,862.5 442.45,861.01 447.56,859.47 452.67,857.88 457.78,856.24 462.89,854.56 468,852.83 473.11,851.05 478.22,849.22 483.33,847.35 488.44,845.43 493.55,843.47 498.66,841.47 503.77,839.42 508.88,837.32 513.99,835.19 519.1,833.01 524.21,830.79 529.32,828.52 534.43,826.22 539.54,823.87 544.65,821.49 549.76,819.06 554.87,816.59 559.98,814.09 565.09,811.55 570.2,808.96 575.31,806.35 580.42,803.69 585.53,801 590.65,798.27 595.76,795.5 600.87,792.7 605.98,789.87 611.09,787 616.2,784.09 621.31,781.15 626.42,778.19 631.53,775.19 636.64,772.16 641.75,769.11 646.86,766.03 651.97,762.93 657.08,759.81 662.19,756.67 667.3,753.5 672.41,750.33 677.52,747.14 682.63,743.93 687.74,740.71 692.85,737.49 697.96,734.25 703.07,731.01 708.18,727.76 713.29,724.51 718.4,721.25 723.51,718 728.62,714.74 733.73,711.48 738.84,708.2 743.95,704.92 749.06,701.62 754.17,698.3 759.28,694.95 764.39,691.59 769.5,688.19 774.61,684.77 779.72,681.31 784.83,677.83 789.94,674.32 795.05,670.79 800.16,667.24 805.27,663.67 810.38,660.08 815.49,656.49 820.6,652.88 825.71,649.27 830.82,645.65 835.93,642.04 841.04,638.42 846.15,634.81 851.26,631.21 856.37,627.61 861.48,624.03 866.59,620.47 871.71,616.92 876.82,613.39 881.93,609.88 887.04,606.4 892.15,602.94 897.26,599.5 902.37,596.06 907.48,592.64 912.59,589.23 917.7,585.82 922.81,582.41 927.92,579 933.03,575.58 938.14,572.16 943.25,568.72 948.36,565.29 953.47,561.84 958.58,558.4 963.69,554.95 968.8,551.5 973.91,548.06 979.02,544.61 984.13,541.17 989.24,537.74 994.35,534.31 999.46,530.89 1004.57,527.48 1009.68,524.08 1014.79,520.69 1019.9,517.31 1025.01,513.95 1030.12,510.61 1035.23,507.28 1040.34,503.97 1045.45,500.69 1050.56,497.42 1055.67,494.17 1060.78,490.93 1065.89,487.71 1071,484.51 1076.11,481.33 1081.22,478.16 1086.33,475 1091.44,471.86 1096.55,468.73 1101.66,465.61 1106.77,462.51 1111.88,459.42 1116.99,456.34 1122.1,453.29 1127.21,450.24 1132.32,447.22 1137.43,444.21 1142.54,441.22 1147.65,438.25 1152.77,435.29 1157.88,432.36 1162.99,429.45 1168.1,426.55 1173.21,423.68 1178.32,420.83 1183.43,418 1188.54,415.2 1193.65,412.42 1198.76,409.66 1203.87,406.92 1208.98,404.22 1214.09,401.53 1219.2,398.88 1224.31,396.25 1229.42,393.64 1234.53,391.07 1239.64,388.52 1244.75,386.01 1249.86,383.52 1254.97,381.06 1260.08,378.63 1265.19,376.23 1270.3,373.87 1275.41,371.53 1280.52,369.21 1285.63,366.93 1290.74,364.68 1295.85,362.45 1300.96,360.25 1306.07,358.07 1311.18,355.92 1316.29,353.8 1321.4,351.7 1326.51,349.63 1331.62,347.58 1336.73,345.56 1341.84,343.56 1346.95,341.59 1352.06,339.63 1357.17,337.7 1362.28,335.79 1367.39,333.91 1372.5,332.04 1377.61,330.2 1382.72,328.37 1387.83,326.57 1392.94,324.79 1398.05,323.02 1403.16,321.28 1408.27,319.55 1413.38,317.84 1418.49,316.15 1423.6,314.48 1428.71,312.82 1433.83,311.18 1438.94,309.55 1444.05,307.94 1449.16,306.34 1454.27,304.76 1459.38,303.19 1464.49,301.63 1469.6,300.08 1474.71,298.55 1479.82,297.02 1484.93,295.51 1490.04,294 1495.15,292.51 1500.26,291.02 1505.37,289.54 1510.48,288.07 1515.59,286.6 1520.7,285.14 1525.81,283.68 1530.92,282.24 1536.03,280.8 1541.14,279.37 1546.25,277.96 1551.36,276.56 1556.47,275.18 1561.58,273.81 1566.69,272.46 1571.8,271.14 1576.91,269.83 1582.02,268.55 1587.13,267.29 1592.24,266.05 1597.35,264.83 1602.46,263.63 1607.57,262.45 1612.68,261.29 1617.79,260.15 1622.9,259.03 1628.01,257.93 1633.12,256.84 1638.23,255.78 1643.34,254.73 1648.45,253.7 1653.56,252.69 1658.67,251.69 1663.78,250.72 1668.89,249.75 1674,248.81 1679.11,247.88 1684.22,246.96 1689.33,246.06 1694.44,245.18 1699.55,244.31 1704.66,243.45 1709.77,242.61 1714.89,241.78 1720,240.97 1725.11,240.16 1730.22,239.37 1735.33,238.59 1740.44,237.83 1745.55,237.07 1750.66,236.33 1755.77,235.6 1760.88,234.87 1765.99,234.16 1771.1,233.46 1776.21,232.77 1781.32,232.09 1786.43,231.41 1791.54,230.75 1796.65,230.09 1801.76,229.44 1806.87,228.8 1811.98,228.17 1817.09,227.55 1822.2,226.93 1827.31,226.31 1832.42,225.71 1837.53,225.11 1842.64,224.51 1847.75,223.92 1852.86,223.34 1857.97,222.76 1863.08,222.18 1868.19,221.61 1873.3,221.04 1878.41,220.48 1883.52,219.91 1888.63,219.36 1893.74,218.8 1898.85,218.24 1903.96,217.69 1909.07,217.14 1914.18,216.59 1919.29,216.05 1924.4,215.5 1929.51,214.96 1934.62,214.42 1939.73,213.89 1944.84,213.35 1949.95,212.82 1955.06,212.29 1960.17,211.77 1965.28,211.24 1970.39,210.72 1975.5,210.2 1980.61,209.68 1985.72,209.17 1990.83,208.66 1995.95,208.15 2001.06,207.64 2006.17,207.14 2011.28,206.63 2016.39,206.13 2021.5,205.64 2026.61,205.14 2031.72,204.65 2036.83,204.16 2041.94,203.68 2047.05,203.19 2052.16,202.71 2057.27,202.23 2062.38,201.76 2067.49,201.29 2072.6,200.82 2077.71,200.35 2082.82,199.88 2087.93,199.42 2093.04,198.96 2098.15,198.51 2103.26,198.05 2108.37,197.6 2113.48,197.16 2118.59,196.71 2123.7,196.27 2128.81,195.83 2133.92,195.4 2139.03,194.96 2144.14,194.53 2149.25,194.11 2154.36,193.68 2159.47,193.26 2164.58,192.84 2169.69,192.43 2174.8,192.02 2179.91,191.61 2185.02,191.2 2190.13,190.8 2195.24,190.4 2200.35,190 2205.46,189.61 2210.57,189.22 2215.68,188.83 2220.79,188.45 2225.9,188.07 2231.01,187.69 2236.12,187.32 2241.23,186.95 2246.34,186.58 2251.45,186.21 2256.56,185.85 2261.67,185.49 2266.78,185.13 2271.89,184.78 2277.01,184.43 2282.12,184.08 2287.23,183.73 2292.34,183.39 2297.45,183.05 2302.56,182.71 2307.67,182.37 2312.78,182.04 2317.89,181.7 2323,181.37 2328.11,181.05 2333.22,180.72 2338.33,180.4 2343.44,180.08 2348.55,179.76 2353.66,179.44 2358.77,179.13 2363.88,178.81 2368.99,178.5 2374.1,178.19 2379.21,177.88 2384.32,177.58 2389.43,177.27 2394.54,176.97 2399.65,176.67 2404.76,176.37 2409.87,176.07 2414.98,175.78 2420.09,175.48 2425.2,175.19 2430.31,174.9 2435.42,174.61 2440.53,174.32 2445.64,174.03 2450.75,173.74 2455.86,173.46 2460.97,173.17 2466.08,172.89 2471.19,172.61 2476.3,172.32 2481.41,172.04 2486.52,171.76 2491.63,171.48 2496.74,171.21 2501.85,170.93 2506.96,170.65 2512.07,170.38 2517.18,170.1 2522.29,169.83 2527.4,169.55 2532.51,169.28 2537.62,169.01 2542.73,168.73 2547.84,168.46 2552.95,168.19 2558.07,167.92 2563.18,167.64 2568.29,167.37 2573.4,167.1 2578.51,166.83 2583.62,166.56 2588.73,166.29 2593.84,166.02 2598.95,165.75 2604.06,165.47 2609.17,165.2 2614.28,164.93 2619.39,164.66 2624.5,164.39 2629.61,164.12 2634.72,163.84 2639.83,163.57 2644.94,163.3 2650.05,163.02 2655.16,162.75 2660.27,162.47 2665.38,162.2 2670.49,161.92 2675.6,161.64 2680.71,161.36 2685.82,161.08 2690.93,160.81 2696.04,160.52 2701.15,160.24 2706.26,159.96 2711.37,159.68 2716.48,159.39 2721.59,159.11 2726.7,158.82 2731.81,158.53 2736.92,158.24 2742.03,157.95 2747.14,157.66 2752.25,157.37 2757.36,157.07 2762.47,156.78 2767.58,156.48 2772.69,156.18 2777.8,155.88 2782.91,155.58 2788.02,155.27 2793.13,154.97 2798.24,154.66 2803.35,154.35 2808.46,154.04 2813.57,153.73 2818.68,153.41 2823.79,153.1 2828.9,152.78 2834.01,152.46 2839.13,152.13 2844.24,151.81 2849.35,151.48" fill="none" stroke="#000000" stroke-width="8.9" stroke-linejoin="round"/>
<line x1="166.5" y1="331.37" x2="2977.1" y2="331.37" stroke="#7f0000" stroke-width="5.78" stroke-dasharray="5.78 17.34"/>
<line x1="1380.17" y1="435.8" x2="1380.17" y2="255.1" stroke="#3b3b3b" stroke-width="5.9" stroke-dasharray="18.1 17.5"/>
<line x1="1265.19" y1="1005.5" x2="1265.19" y2="331.37" stroke="#1d4673" stroke-width="4.5" stroke-dasharray="17.8 17.8"/>
<line x1="1515.59" y1="1005.5" x2="1515.59" y2="331.37" stroke="#1d4673" stroke-width="4.5" stroke-dasharray="17.8 17.8"/>
<line x1="1265.19" y1="331.37" x2="1515.59" y2="331.37" stroke="#1d4673" stroke-width="4.5" stroke-dasharray="17.8 17.8"/>
<rect x="1211.74" y="973.85" width="106.9" height="63.2" rx="7.8" ry="7.8" fill="#ffffff" stroke="#1d4673" stroke-width="2"/>
<text transform="translate(1265.19,1021.95) scale(1,1.04)" font-size="45.83" fill="#1d4673" text-anchor="middle">780</text>
<rect x="1462.14" y="973.85" width="106.9" height="63.2" rx="7.8" ry="7.8" fill="#ffffff" stroke="#1d4673" stroke-width="2"/>
<text transform="translate(1515.59,1021.95) scale(1,1.04)" font-size="45.83" fill="#1d4673" text-anchor="middle">878</text>
<rect x="1326.82" y="403.9" width="106.9" height="63.2" rx="7.8" ry="7.8" fill="#ffffff" stroke="#595959" stroke-width="2"/>
<text transform="translate(1380.27,452) scale(1,1.04)" font-size="45.83" fill="#595959" text-anchor="middle">825</text>
<rect x="216.9" y="185.1" width="72.2" height="144" fill="#ffffff"/>
<rect x="220.1" y="188.3" width="65.8" height="65.6" fill="rgba(0,0,0,0.155)"/>
<rect x="220.1" y="260.3" width="65.8" height="65.6" fill="rgba(59,104,155,0.53)"/>
<text x="217.3" y="157.8" font-size="45.83" fill="#000000">Confidence Bands</text>
<text x="312" y="235.4" font-size="36.67" fill="#000000">0% - 100% (169 sample sizes)</text>
<text x="312" y="307.4" font-size="36.67" fill="#000000">2.5% - 97.5% (98 sample sizes)</text>
</g>
<rect x="167.62" y="88.42" width="2808.35" height="959.55" fill="none" stroke="#222222" stroke-width="2.25"/>
<path d="M155.1 1031.65H166.5M155.1 944.12H166.5M155.1 856.58H166.5M155.1 769.05H166.5M155.1 681.51H166.5M155.1 593.98H166.5M155.1 506.44H166.5M155.1 418.91H166.5M155.1 331.37H166.5M155.1 243.84H166.5M155.1 156.3H166.5M294.25 1049.1V1060.5M399.01 1049.1V1060.5M506.33 1049.1V1060.5M613.64 1049.1V1060.5M718.4 1049.1V1060.5M825.71 1049.1V1060.5M933.03 1049.1V1060.5M1037.79 1049.1V1060.5M1145.1 1049.1V1060.5M1252.41 1049.1V1060.5M1357.17 1049.1V1060.5M1464.49 1049.1V1060.5M1571.8 1049.1V1060.5M1676.56 1049.1V1060.5M1783.87 1049.1V1060.5M1891.19 1049.1V1060.5M1995.95 1049.1V1060.5M2103.26 1049.1V1060.5M2210.57 1049.1V1060.5M2315.33 1049.1V1060.5M2422.65 1049.1V1060.5M2529.96 1049.1V1060.5M2634.72 1049.1V1060.5M2742.03 1049.1V1060.5M2849.35 1049.1V1060.5" stroke="#262626" stroke-width="4.45" fill="none"/>
<g font-size="37.2" fill="#404040">
<text transform="translate(133.8,1046.3) scale(1,1.065)" text-anchor="end">0.0</text>
<text transform="translate(133.8,958.77) scale(1,1.065)" text-anchor="end">0.1</text>
<text transform="translate(133.8,871.23) scale(1,1.065)" text-anchor="end">0.2</text>
<text transform="translate(133.8,783.7) scale(1,1.065)" text-anchor="end">0.3</text>
<text transform="translate(133.8,696.16) scale(1,1.065)" text-anchor="end">0.4</text>
<text transform="translate(133.8,608.63) scale(1,1.065)" text-anchor="end">0.5</text>
<text transform="translate(133.8,521.09) scale(1,1.065)" text-anchor="end">0.6</text>
<text transform="translate(133.8,433.56) scale(1,1.065)" text-anchor="end">0.7</text>
<text transform="translate(133.8,346.02) scale(1,1.065)" text-anchor="end">0.8</text>
<text transform="translate(133.8,258.49) scale(1,1.065)" text-anchor="end">0.9</text>
<text transform="translate(133.8,170.95) scale(1,1.065)" text-anchor="end">1.0</text>
<text transform="translate(307.65,1082.2) rotate(-90) scale(1,1.037)" text-anchor="end">400</text>
<text transform="translate(412.41,1082.2) rotate(-90) scale(1,1.037)" text-anchor="end">441</text>
<text transform="translate(519.73,1082.2) rotate(-90) scale(1,1.037)" text-anchor="end">483</text>
<text transform="translate(627.04,1082.2) rotate(-90) scale(1,1.037)" text-anchor="end">525</text>
<text transform="translate(731.8,1082.2) rotate(-90) scale(1,1.037)" text-anchor="end">566</text>
<text transform="translate(839.11,1082.2) rotate(-90) scale(1,1.037)" text-anchor="end">608</text>
<text transform="translate(946.43,1082.2) rotate(-90) scale(1,1.037)" text-anchor="end">650</text>
<text transform="translate(1051.19,1082.2) rotate(-90) scale(1,1.037)" text-anchor="end">691</text>
<text transform="translate(1158.5,1082.2) rotate(-90) scale(1,1.037)" text-anchor="end">733</text>
<text transform="translate(1265.81,1082.2) rotate(-90) scale(1,1.037)" text-anchor="end">775</text>
<text transform="translate(1370.57,1082.2) rotate(-90) scale(1,1.037)" text-anchor="end">816</text>
<text transform="translate(1477.89,1082.2) rotate(-90) scale(1,1.037)" text-anchor="end">858</text>
<text transform="translate(1585.2,1082.2) rotate(-90) scale(1,1.037)" text-anchor="end">900</text>
<text transform="translate(1689.96,1082.2) rotate(-90) scale(1,1.037)" text-anchor="end">941</text>
<text transform="translate(1797.27,1082.2) rotate(-90) scale(1,1.037)" text-anchor="end">983</text>
<text transform="translate(1904.59,1082.2) rotate(-90) scale(1,1.037)" text-anchor="end">1025</text>
<text transform="translate(2009.35,1082.2) rotate(-90) scale(1,1.037)" text-anchor="end">1066</text>
<text transform="translate(2116.66,1082.2) rotate(-90) scale(1,1.037)" text-anchor="end">1108</text>
<text transform="translate(2223.97,1082.2) rotate(-90) scale(1,1.037)" text-anchor="end">1150</text>
<text transform="translate(2328.73,1082.2) rotate(-90) scale(1,1.037)" text-anchor="end">1191</text>
<text transform="translate(2436.05,1082.2) rotate(-90) scale(1,1.037)" text-anchor="end">1233</text>
<text transform="translate(2543.36,1082.2) rotate(-90) scale(1,1.037)" text-anchor="end">1275</text>
<text transform="translate(2648.12,1082.2) rotate(-90) scale(1,1.037)" text-anchor="end">1316</text>
<text transform="translate(2755.43,1082.2) rotate(-90) scale(1,1.037)" text-anchor="end">1358</text>
<text transform="translate(2862.75,1082.2) rotate(-90) scale(1,1.037)" text-anchor="end">1400</text>
</g>
<text x="166.4" y="59.65" font-size="45.83" font-weight="bold" fill="#000000">Bootstrapped Splines (10000 runs)</text>
<text x="1571.8" y="1216.3" font-size="41.67" fill="#000000" text-anchor="middle">Sample Size Range</text>
<text transform="translate(52.6,568.2) rotate(-90)" font-size="41.67" fill="#000000" text-anchor="middle">Statistic Value</text>
<clipPath id="cb0"><rect x="166.4" y="1351.6" width="806.6" height="641.4"/></clipPath>
<g id="panel-p1" clip-path="url(#cb0)">
<path d="M224.65 1351.6V1993M309.3 1351.6V1993M393.95 1351.6V1993M478.6 1351.6V1993M563.25 1351.6V1993M647.9 1351.6V1993M732.55 1351.6V1993M817.2 1351.6V1993M901.85 1351.6V1993M166.4 1963.8H973M166.4 1855.45H973M166.4 1747.1H973M166.4 1638.75H973M166.4 1530.4H973M166.4 1422.05H973" stroke="#e5e5e5" stroke-width="0.9" fill="none"/>
<polygon points="202.41,1963.8 202.41,1963.39 203.88,1963.42 205.35,1963.45 206.83,1963.48 208.3,1963.5 209.77,1963.52 211.24,1963.54 212.72,1963.55 214.19,1963.56 215.66,1963.57 217.13,1963.57 218.61,1963.57 220.08,1963.58 221.55,1963.58 223.02,1963.58 224.5,1963.58 225.97,1963.56 227.44,1963.53 228.91,1963.48 230.39,1963.41 231.86,1963.34 233.33,1963.25 234.8,1963.16 236.28,1963.07 237.75,1962.98 239.22,1962.89 240.69,1962.81 242.17,1962.74 243.64,1962.69 245.11,1962.65 246.59,1962.63 248.06,1962.62 249.53,1962.63 251,1962.65 252.48,1962.67 253.95,1962.69 255.42,1962.72 256.89,1962.75 258.37,1962.78 259.84,1962.82 261.31,1962.85 262.78,1962.88 264.26,1962.91 265.73,1962.94 267.2,1962.97 268.67,1962.99 270.15,1963 271.62,1963 273.09,1963 274.56,1962.97 276.04,1962.92 277.51,1962.86 278.98,1962.77 280.45,1962.68 281.93,1962.57 283.4,1962.45 284.87,1962.33 286.34,1962.21 287.82,1962.09 289.29,1961.97 290.76,1961.85 292.23,1961.74 293.71,1961.64 295.18,1961.56 296.65,1961.49 298.12,1961.43 299.6,1961.39 301.07,1961.35 302.54,1961.31 304.01,1961.27 305.49,1961.23 306.96,1961.19 308.43,1961.13 309.9,1961.07 311.38,1960.99 312.85,1960.9 314.32,1960.81 315.79,1960.7 317.27,1960.57 318.74,1960.44 320.21,1960.31 321.68,1960.16 323.16,1960 324.63,1959.84 326.1,1959.65 327.57,1959.44 329.05,1959.21 330.52,1958.96 331.99,1958.69 333.46,1958.41 334.94,1958.12 336.41,1957.81 337.88,1957.5 339.35,1957.18 340.83,1956.84 342.3,1956.49 343.77,1956.12 345.24,1955.72 346.72,1955.3 348.19,1954.85 349.66,1954.38 351.13,1953.87 352.61,1953.33 354.08,1952.73 355.55,1952.06 357.02,1951.32 358.5,1950.54 359.97,1949.73 361.44,1948.9 362.91,1948.04 364.39,1947.11 365.86,1946.13 367.33,1945.13 368.8,1944.11 370.28,1943.11 371.75,1942.14 373.22,1941.18 374.69,1940.22 376.17,1939.27 377.64,1938.33 379.11,1937.4 380.58,1936.48 382.06,1935.59 383.53,1934.73 385,1933.89 386.47,1933.07 387.95,1932.24 389.42,1931.4 390.89,1930.54 392.36,1929.63 393.84,1928.68 395.31,1927.68 396.78,1926.64 398.25,1925.57 399.73,1924.45 401.2,1923.27 402.67,1922.02 404.15,1920.71 405.62,1919.29 407.09,1917.78 408.56,1916.18 410.04,1914.5 411.51,1912.77 412.98,1910.98 414.45,1909.13 415.93,1907.18 417.4,1905.14 418.87,1903.03 420.34,1900.89 421.82,1898.74 423.29,1896.6 424.76,1894.43 426.23,1892.23 427.71,1890.01 429.18,1887.78 430.65,1885.55 432.12,1883.33 433.6,1881.12 435.07,1878.92 436.54,1876.72 438.01,1874.52 439.49,1872.31 440.96,1870.09 442.43,1867.86 443.9,1865.62 445.38,1863.38 446.85,1861.14 448.32,1858.87 449.79,1856.58 451.27,1854.26 452.74,1851.89 454.21,1849.48 455.68,1847.04 457.16,1844.58 458.63,1842.11 460.1,1839.63 461.57,1837.16 463.05,1834.69 464.52,1832.22 465.99,1829.74 467.46,1827.24 468.94,1824.71 470.41,1822.14 471.88,1819.53 473.35,1816.87 474.83,1814.18 476.3,1811.46 477.77,1808.72 479.24,1805.97 480.72,1803.26 482.19,1800.53 483.66,1797.72 485.13,1794.75 486.61,1791.56 488.08,1788.15 489.55,1784.53 491.02,1780.76 492.5,1776.86 493.97,1772.85 495.44,1768.7 496.91,1764.39 498.39,1759.93 499.86,1755.34 501.33,1750.62 502.8,1745.72 504.28,1740.61 505.75,1735.38 507.22,1730.1 508.69,1724.83 510.17,1719.56 511.64,1714.24 513.11,1708.87 514.58,1703.47 516.06,1698.06 517.53,1692.67 519,1687.29 520.47,1681.96 521.95,1676.69 523.42,1671.5 524.89,1666.39 526.36,1661.34 527.84,1656.34 529.31,1651.38 530.78,1646.42 532.25,1641.45 533.73,1636.47 535.2,1631.42 536.67,1626.33 538.14,1621.22 539.62,1616.13 541.09,1611.11 542.56,1606.18 544.03,1601.38 545.51,1596.72 546.98,1592.14 548.45,1587.64 549.92,1583.21 551.4,1578.86 552.87,1574.58 554.34,1570.36 555.82,1566.25 557.29,1562.27 558.76,1558.37 560.23,1554.5 561.71,1550.6 563.18,1546.62 564.65,1542.59 566.12,1538.6 567.6,1534.55 569.07,1530.4 570.54,1526.08 572.01,1521.51 573.49,1516.73 574.96,1511.74 576.43,1506.57 577.9,1501.21 579.38,1495.69 580.85,1489.91 582.32,1483.72 583.79,1477.29 585.27,1470.79 586.74,1464.41 588.21,1458.33 589.68,1452.41 591.16,1446.49 592.63,1440.71 594.1,1435.21 595.57,1430.12 597.05,1425.57 598.52,1421.33 599.99,1417.32 601.46,1413.59 602.94,1410.17 604.41,1407.09 605.88,1404.33 607.35,1401.76 608.83,1399.38 610.3,1397.2 611.77,1395.26 613.24,1393.58 614.72,1392.09 616.19,1390.71 617.66,1389.46 619.13,1388.35 620.61,1387.4 622.08,1386.61 623.55,1385.91 625.02,1385.28 626.5,1384.7 627.97,1384.19 629.44,1383.73 630.91,1383.33 632.39,1382.98 633.86,1382.68 635.33,1382.4 636.8,1382.16 638.28,1381.93 639.75,1381.72 641.22,1381.53 642.69,1381.35 644.17,1381.16 645.64,1380.96 647.11,1380.78 648.58,1380.63 650.06,1380.54 651.53,1380.53 653,1380.62 654.47,1380.82 655.95,1381.08 657.42,1381.39 658.89,1381.92 660.36,1382.75 661.84,1383.78 663.31,1384.92 664.78,1386.22 666.25,1387.86 667.73,1389.73 669.2,1391.75 670.67,1393.83 672.14,1395.87 673.62,1397.95 675.09,1400.11 676.56,1402.34 678.03,1404.61 679.51,1406.9 680.98,1409.17 682.45,1411.4 683.92,1413.62 685.4,1415.85 686.87,1418.16 688.34,1420.57 689.81,1423.12 691.29,1425.86 692.76,1428.81 694.23,1431.95 695.7,1435.28 697.18,1438.78 698.65,1442.44 700.12,1446.29 701.59,1450.41 703.07,1454.77 704.54,1459.3 706.01,1463.97 707.49,1468.71 708.96,1473.58 710.43,1478.67 711.9,1483.89 713.38,1489.16 714.85,1494.43 716.32,1499.62 717.79,1504.82 719.27,1510.05 720.74,1515.26 722.21,1520.41 723.68,1525.47 725.16,1530.38 726.63,1535.18 728.1,1539.89 729.57,1544.56 731.05,1549.21 732.52,1553.88 733.99,1558.49 735.46,1563.02 736.94,1567.55 738.41,1572.16 739.88,1576.95 741.35,1582 742.83,1587.28 744.3,1592.75 745.77,1598.43 747.24,1604.31 748.72,1610.39 750.19,1616.7 751.66,1623.29 753.13,1630.15 754.61,1637.23 756.08,1644.5 757.55,1651.92 759.02,1659.66 760.5,1667.94 761.97,1676.53 763.44,1685.18 764.91,1693.66 766.39,1701.71 767.86,1709.11 769.33,1715.73 770.8,1721.83 772.28,1727.56 773.75,1733.02 775.22,1738.29 776.69,1743.33 778.17,1748.14 779.64,1752.75 781.11,1757.15 782.58,1761.35 784.06,1765.43 785.53,1769.45 787,1773.44 788.47,1777.38 789.95,1781.26 791.42,1785.07 792.89,1788.79 794.36,1792.43 795.84,1795.98 797.31,1799.47 798.78,1802.92 800.25,1806.33 801.73,1809.71 803.2,1813.03 804.67,1816.31 806.14,1819.59 807.62,1822.9 809.09,1826.28 810.56,1829.71 812.03,1833.17 813.51,1836.65 814.98,1840.12 816.45,1843.56 817.92,1846.96 819.4,1850.35 820.87,1853.72 822.34,1857.05 823.81,1860.31 825.29,1863.52 826.76,1866.69 828.23,1869.81 829.7,1872.9 831.18,1875.95 832.65,1878.97 834.12,1881.96 835.59,1884.91 837.07,1887.82 838.54,1890.7 840.01,1893.54 841.48,1896.35 842.96,1899.13 844.43,1901.87 845.9,1904.57 847.37,1907.24 848.85,1909.93 850.32,1912.6 851.79,1915.18 853.26,1917.65 854.74,1919.94 856.21,1922.15 857.68,1924.26 859.15,1926.27 860.63,1928.16 862.1,1929.91 863.57,1931.56 865.05,1933.13 866.52,1934.61 867.99,1935.97 869.46,1937.22 870.94,1938.36 872.41,1939.42 873.88,1940.41 875.35,1941.34 876.83,1942.21 878.3,1943.04 879.77,1943.82 881.24,1944.56 882.72,1945.26 884.19,1945.94 885.66,1946.59 887.13,1947.19 888.61,1947.78 890.08,1948.34 891.55,1948.91 893.02,1949.5 894.5,1950.08 895.97,1950.67 897.44,1951.25 898.91,1951.83 900.39,1952.4 901.86,1952.96 903.33,1953.51 904.8,1954.06 906.28,1954.6 907.75,1955.12 909.22,1955.62 910.69,1956.1 912.17,1956.59 913.64,1957.06 915.11,1957.5 916.58,1957.88 918.06,1958.19 919.53,1958.46 921,1958.71 922.47,1958.93 923.95,1959.15 925.42,1959.35 926.89,1959.56 928.36,1959.77 929.84,1959.97 931.31,1960.16 932.78,1960.35 934.25,1960.53 935.73,1960.7 937.2,1960.87 937.2,1963.8" fill="rgba(0,0,0,0.12)"/>
<polyline points="202.41,1963.39 203.88,1963.42 205.35,1963.45 206.83,1963.48 208.3,1963.5 209.77,1963.52 211.24,1963.54 212.72,1963.55 214.19,1963.56 215.66,1963.57 217.13,1963.57 218.61,1963.57 220.08,1963.58 221.55,1963.58 223.02,1963.58 224.5,1963.58 225.97,1963.56 227.44,1963.53 228.91,1963.48 230.39,1963.41 231.86,1963.34 233.33,1963.25 234.8,1963.16 236.28,1963.07 237.75,1962.98 239.22,1962.89 240.69,1962.81 242.17,1962.74 243.64,1962.69 245.11,1962.65 246.59,1962.63 248.06,1962.62 249.53,1962.63 251,1962.65 252.48,1962.67 253.95,1962.69 255.42,1962.72 256.89,1962.75 258.37,1962.78 259.84,1962.82 261.31,1962.85 262.78,1962.88 264.26,1962.91 265.73,1962.94 267.2,1962.97 268.67,1962.99 270.15,1963 271.62,1963 273.09,1963 274.56,1962.97 276.04,1962.92 277.51,1962.86 278.98,1962.77 280.45,1962.68 281.93,1962.57 283.4,1962.45 284.87,1962.33 286.34,1962.21 287.82,1962.09 289.29,1961.97 290.76,1961.85 292.23,1961.74 293.71,1961.64 295.18,1961.56 296.65,1961.49 298.12,1961.43 299.6,1961.39 301.07,1961.35 302.54,1961.31 304.01,1961.27 305.49,1961.23 306.96,1961.19 308.43,1961.13 309.9,1961.07 311.38,1960.99 312.85,1960.9 314.32,1960.81 315.79,1960.7 317.27,1960.57 318.74,1960.44 320.21,1960.31 321.68,1960.16 323.16,1960 324.63,1959.84 326.1,1959.65 327.57,1959.44 329.05,1959.21 330.52,1958.96 331.99,1958.69 333.46,1958.41 334.94,1958.12 336.41,1957.81 337.88,1957.5 339.35,1957.18 340.83,1956.84 342.3,1956.49 343.77,1956.12 345.24,1955.72 346.72,1955.3 348.19,1954.85 349.66,1954.38 351.13,1953.87 352.61,1953.33 354.08,1952.73 355.55,1952.06 357.02,1951.32 358.5,1950.54 359.97,1949.73 361.44,1948.9 362.91,1948.04 364.39,1947.11 365.86,1946.13 367.33,1945.13 368.8,1944.11 370.28,1943.11 371.75,1942.14 373.22,1941.18 374.69,1940.22 376.17,1939.27 377.64,1938.33 379.11,1937.4 380.58,1936.48 382.06,1935.59 383.53,1934.73 385,1933.89 386.47,1933.07 387.95,1932.24 389.42,1931.4 390.89,1930.54 392.36,1929.63 393.84,1928.68 395.31,1927.68 396.78,1926.64 398.25,1925.57 399.73,1924.45 401.2,1923.27 402.67,1922.02 404.15,1920.71 405.62,1919.29 407.09,1917.78 408.56,1916.18 410.04,1914.5 411.51,1912.77 412.98,1910.98 414.45,1909.13 415.93,1907.18 417.4,1905.14 418.87,1903.03 420.34,1900.89 421.82,1898.74 423.29,1896.6 424.76,1894.43 426.23,1892.23 427.71,1890.01 429.18,1887.78 430.65,1885.55 432.12,1883.33 433.6,1881.12 435.07,1878.92 436.54,1876.72 438.01,1874.52 439.49,1872.31 440.96,1870.09 442.43,1867.86 443.9,1865.62 445.38,1863.38 446.85,1861.14 448.32,1858.87 449.79,1856.58 451.27,1854.26 452.74,1851.89 454.21,1849.48 455.68,1847.04 457.16,1844.58 458.63,1842.11 460.1,1839.63 461.57,1837.16 463.05,1834.69 464.52,1832.22 465.99,1829.74 467.46,1827.24 468.94,1824.71 470.41,1822.14 471.88,1819.53 473.35,1816.87 474.83,1814.18 476.3,1811.46 477.77,1808.72 479.24,1805.97 480.72,1803.26 482.19,1800.53 483.66,1797.72 485.13,1794.75 486.61,1791.56 488.08,1788.15 489.55,1784.53 491.02,1780.76 492.5,1776.86 493.97,1772.85 495.44,1768.7 496.91,1764.39 498.39,1759.93 499.86,1755.34 501.33,1750.62 502.8,1745.72 504.28,1740.61 505.75,1735.38 507.22,1730.1 508.69,1724.83 510.17,1719.56 511.64,1714.24 513.11,1708.87 514.58,1703.47 516.06,1698.06 517.53,1692.67 519,1687.29 520.47,1681.96 521.95,1676.69 523.42,1671.5 524.89,1666.39 526.36,1661.34 527.84,1656.34 529.31,1651.38 530.78,1646.42 532.25,1641.45 533.73,1636.47 535.2,1631.42 536.67,1626.33 538.14,1621.22 539.62,1616.13 541.09,1611.11 542.56,1606.18 544.03,1601.38 545.51,1596.72 546.98,1592.14 548.45,1587.64 549.92,1583.21 551.4,1578.86 552.87,1574.58 554.34,1570.36 555.82,1566.25 557.29,1562.27 558.76,1558.37 560.23,1554.5 561.71,1550.6 563.18,1546.62 564.65,1542.59 566.12,1538.6 567.6,1534.55 569.07,1530.4 570.54,1526.08 572.01,1521.51 573.49,1516.73 574.96,1511.74 576.43,1506.57 577.9,1501.21 579.38,1495.69 580.85,1489.91 582.32,1483.72 583.79,1477.29 585.27,1470.79 586.74,1464.41 588.21,1458.33 589.68,1452.41 591.16,1446.49 592.63,1440.71 594.1,1435.21 595.57,1430.12 597.05,1425.57 598.52,1421.33 599.99,1417.32 601.46,1413.59 602.94,1410.17 604.41,1407.09 605.88,1404.33 607.35,1401.76 608.83,1399.38 610.3,1397.2 611.77,1395.26 613.24,1393.58 614.72,1392.09 616.19,1390.71 617.66,1389.46 619.13,1388.35 620.61,1387.4 622.08,1386.61 623.55,1385.91 625.02,1385.28 626.5,1384.7 627.97,1384.19 629.44,1383.73 630.91,1383.33 632.39,1382.98 633.86,1382.68 635.33,1382.4 636.8,1382.16 638.28,1381.93 639.75,1381.72 641.22,1381.53 642.69,1381.35 644.17,1381.16 645.64,1380.96 647.11,1380.78 648.58,1380.63 650.06,1380.54 651.53,1380.53 653,1380.62 654.47,1380.82 655.95,1381.08 657.42,1381.39 658.89,1381.92 660.36,1382.75 661.84,1383.78 663.31,1384.92 664.78,1386.22 666.25,1387.86 667.73,1389.73 669.2,1391.75 670.67,1393.83 672.14,1395.87 673.62,1397.95 675.09,1400.11 676.56,1402.34 678.03,1404.61 679.51,1406.9 680.98,1409.17 682.45,1411.4 683.92,1413.62 685.4,1415.85 686.87,1418.16 688.34,1420.57 689.81,1423.12 691.29,1425.86 692.76,1428.81 694.23,1431.95 695.7,1435.28 697.18,1438.78 698.65,1442.44 700.12,1446.29 701.59,1450.41 703.07,1454.77 704.54,1459.3 706.01,1463.97 707.49,1468.71 708.96,1473.58 710.43,1478.67 711.9,1483.89 713.38,1489.16 714.85,1494.43 716.32,1499.62 717.79,1504.82 719.27,1510.05 720.74,1515.26 722.21,1520.41 723.68,1525.47 725.16,1530.38 726.63,1535.18 728.1,1539.89 729.57,1544.56 731.05,1549.21 732.52,1553.88 733.99,1558.49 735.46,1563.02 736.94,1567.55 738.41,1572.16 739.88,1576.95 741.35,1582 742.83,1587.28 744.3,1592.75 745.77,1598.43 747.24,1604.31 748.72,1610.39 750.19,1616.7 751.66,1623.29 753.13,1630.15 754.61,1637.23 756.08,1644.5 757.55,1651.92 759.02,1659.66 760.5,1667.94 761.97,1676.53 763.44,1685.18 764.91,1693.66 766.39,1701.71 767.86,1709.11 769.33,1715.73 770.8,1721.83 772.28,1727.56 773.75,1733.02 775.22,1738.29 776.69,1743.33 778.17,1748.14 779.64,1752.75 781.11,1757.15 782.58,1761.35 784.06,1765.43 785.53,1769.45 787,1773.44 788.47,1777.38 789.95,1781.26 791.42,1785.07 792.89,1788.79 794.36,1792.43 795.84,1795.98 797.31,1799.47 798.78,1802.92 800.25,1806.33 801.73,1809.71 803.2,1813.03 804.67,1816.31 806.14,1819.59 807.62,1822.9 809.09,1826.28 810.56,1829.71 812.03,1833.17 813.51,1836.65 814.98,1840.12 816.45,1843.56 817.92,1846.96 819.4,1850.35 820.87,1853.72 822.34,1857.05 823.81,1860.31 825.29,1863.52 826.76,1866.69 828.23,1869.81 829.7,1872.9 831.18,1875.95 832.65,1878.97 834.12,1881.96 835.59,1884.91 837.07,1887.82 838.54,1890.7 840.01,1893.54 841.48,1896.35 842.96,1899.13 844.43,1901.87 845.9,1904.57 847.37,1907.24 848.85,1909.93 850.32,1912.6 851.79,1915.18 853.26,1917.65 854.74,1919.94 856.21,1922.15 857.68,1924.26 859.15,1926.27 860.63,1928.16 862.1,1929.91 863.57,1931.56 865.05,1933.13 866.52,1934.61 867.99,1935.97 869.46,1937.22 870.94,1938.36 872.41,1939.42 873.88,1940.41 875.35,1941.34 876.83,1942.21 878.3,1943.04 879.77,1943.82 881.24,1944.56 882.72,1945.26 884.19,1945.94 885.66,1946.59 887.13,1947.19 888.61,1947.78 890.08,1948.34 891.55,1948.91 893.02,1949.5 894.5,1950.08 895.97,1950.67 897.44,1951.25 898.91,1951.83 900.39,1952.4 901.86,1952.96 903.33,1953.51 904.8,1954.06 906.28,1954.6 907.75,1955.12 909.22,1955.62 910.69,1956.1 912.17,1956.59 913.64,1957.06 915.11,1957.5 916.58,1957.88 918.06,1958.19 919.53,1958.46 921,1958.71 922.47,1958.93 923.95,1959.15 925.42,1959.35 926.89,1959.56 928.36,1959.77 929.84,1959.97 931.31,1960.16 932.78,1960.35 934.25,1960.53 935.73,1960.7 937.2,1960.87" fill="none" stroke="#383838" stroke-width="4.45" stroke-linejoin="round" stroke-linecap="round"/>
<line x1="637.6" y1="1993" x2="637.6" y2="1351.6" stroke="#7f0000" stroke-width="5.8" stroke-dasharray="5.8 17.33"/>
</g>
<rect x="167.53" y="1352.72" width="804.35" height="639.15" fill="none" stroke="#222222" stroke-width="2.25"/>
<path d="M155 1963.8H166.4M155 1747.1H166.4M155 1530.4H166.4M309.3 1993V2004.4M478.6 1993V2004.4M647.9 1993V2004.4M817.2 1993V2004.4" stroke="#262626" stroke-width="4.45" fill="none"/>
<g font-size="37.2" fill="#404040">
<text transform="translate(133.8,1978.45) scale(1,1.065)" text-anchor="end">0</text>
<text transform="translate(133.8,1761.75) scale(1,1.065)" text-anchor="end">5</text>
<text transform="translate(133.8,1545.05) scale(1,1.065)" text-anchor="end">10</text>
<text transform="translate(309.3,2056.6) scale(1,1.065)" text-anchor="middle">0.65</text>
<text transform="translate(478.6,2056.6) scale(1,1.065)" text-anchor="middle">0.70</text>
<text transform="translate(647.9,2056.6) scale(1,1.065)" text-anchor="middle">0.75</text>
<text transform="translate(817.2,2056.6) scale(1,1.065)" text-anchor="middle">0.80</text>
</g>
<text x="165.9" y="1325" font-size="45.83" font-weight="bold" fill="#000000">Sample: 780 | M = 0.75 | SD = 0.03</text>
<text x="569.7" y="2111.2" font-size="41.67" fill="#000000" text-anchor="middle">Statistic Value</text>
<text transform="translate(51.8,1672.3) rotate(-90)" font-size="41.67" fill="#000000" text-anchor="middle">Density</text>
<clipPath id="cb1"><rect x="1168.6" y="1351.6" width="806.6" height="641.4"/></clipPath>
<g id="panel-p2" clip-path="url(#cb1)">
<path d="M1183.1 1351.6V1993M1272.4 1351.6V1993M1361.7 1351.6V1993M1451 1351.6V1993M1540.3 1351.6V1993M1629.6 1351.6V1993M1718.9 1351.6V1993M1808.2 1351.6V1993M1897.5 1351.6V1993M1168.6 1963.8H1975.2M1168.6 1865.47H1975.2M1168.6 1767.15H1975.2M1168.6 1668.83H1975.2M1168.6 1570.5H1975.2M1168.6 1472.17H1975.2M1168.6 1373.85H1975.2" stroke="#e5e5e5" stroke-width="0.9" fill="none"/>
<polygon points="1204.32,1963.8 1204.32,1963.2 1205.79,1963.19 1207.26,1963.19 1208.74,1963.18 1210.21,1963.17 1211.68,1963.16 1213.15,1963.15 1214.63,1963.13 1216.1,1963.11 1217.57,1963.1 1219.04,1963.08 1220.52,1963.06 1221.99,1963.04 1223.46,1963.02 1224.93,1963 1226.41,1962.97 1227.88,1962.93 1229.35,1962.88 1230.82,1962.83 1232.3,1962.78 1233.77,1962.72 1235.24,1962.67 1236.71,1962.61 1238.19,1962.56 1239.66,1962.52 1241.13,1962.48 1242.6,1962.45 1244.08,1962.44 1245.55,1962.43 1247.02,1962.44 1248.49,1962.46 1249.97,1962.49 1251.44,1962.53 1252.91,1962.58 1254.38,1962.63 1255.86,1962.69 1257.33,1962.75 1258.8,1962.81 1260.27,1962.87 1261.75,1962.93 1263.22,1962.99 1264.69,1963.04 1266.16,1963.09 1267.64,1963.13 1269.11,1963.16 1270.58,1963.19 1272.05,1963.2 1273.53,1963.19 1275,1963.16 1276.47,1963.11 1277.94,1963.04 1279.42,1962.96 1280.89,1962.86 1282.36,1962.76 1283.83,1962.65 1285.31,1962.54 1286.78,1962.42 1288.25,1962.31 1289.72,1962.21 1291.2,1962.1 1292.67,1961.99 1294.14,1961.88 1295.61,1961.76 1297.09,1961.63 1298.56,1961.5 1300.03,1961.37 1301.5,1961.23 1302.98,1961.08 1304.45,1960.94 1305.92,1960.78 1307.4,1960.63 1308.87,1960.47 1310.34,1960.3 1311.81,1960.12 1313.29,1959.94 1314.76,1959.74 1316.23,1959.55 1317.7,1959.34 1319.18,1959.13 1320.65,1958.91 1322.12,1958.69 1323.59,1958.46 1325.07,1958.23 1326.54,1958 1328.01,1957.76 1329.48,1957.53 1330.96,1957.29 1332.43,1957.05 1333.9,1956.8 1335.37,1956.54 1336.85,1956.27 1338.32,1955.98 1339.79,1955.67 1341.26,1955.34 1342.74,1954.99 1344.21,1954.58 1345.68,1954.12 1347.15,1953.6 1348.63,1953.05 1350.1,1952.46 1351.57,1951.85 1353.04,1951.21 1354.52,1950.53 1355.99,1949.79 1357.46,1949.01 1358.93,1948.2 1360.41,1947.37 1361.88,1946.52 1363.35,1945.64 1364.82,1944.71 1366.3,1943.75 1367.77,1942.79 1369.24,1941.83 1370.71,1940.88 1372.19,1939.97 1373.66,1939.08 1375.13,1938.2 1376.6,1937.32 1378.08,1936.44 1379.55,1935.57 1381.02,1934.68 1382.49,1933.81 1383.97,1932.96 1385.44,1932.1 1386.91,1931.24 1388.38,1930.35 1389.86,1929.42 1391.33,1928.44 1392.8,1927.44 1394.27,1926.41 1395.75,1925.34 1397.22,1924.22 1398.69,1923.05 1400.16,1921.82 1401.64,1920.53 1403.11,1919.18 1404.58,1917.76 1406.05,1916.26 1407.53,1914.7 1409,1913.05 1410.47,1911.31 1411.94,1909.43 1413.42,1907.44 1414.89,1905.36 1416.36,1903.19 1417.83,1900.98 1419.31,1898.72 1420.78,1896.39 1422.25,1893.95 1423.72,1891.44 1425.2,1888.88 1426.67,1886.29 1428.14,1883.7 1429.61,1881.11 1431.09,1878.48 1432.56,1875.81 1434.03,1873.13 1435.5,1870.46 1436.98,1867.8 1438.45,1865.17 1439.92,1862.56 1441.39,1859.96 1442.87,1857.38 1444.34,1854.82 1445.81,1852.29 1447.28,1849.79 1448.76,1847.31 1450.23,1844.89 1451.7,1842.54 1453.17,1840.28 1454.65,1838.07 1456.12,1835.87 1457.59,1833.67 1459.06,1831.49 1460.54,1829.34 1462.01,1827.19 1463.48,1825.02 1464.96,1822.79 1466.43,1820.46 1467.9,1818.04 1469.37,1815.56 1470.85,1813.01 1472.32,1810.37 1473.79,1807.65 1475.26,1804.83 1476.74,1801.9 1478.21,1798.83 1479.68,1795.63 1481.15,1792.29 1482.63,1788.82 1484.1,1785.23 1485.57,1781.47 1487.04,1777.53 1488.52,1773.45 1489.99,1769.26 1491.46,1764.99 1492.93,1760.62 1494.41,1756.12 1495.88,1751.51 1497.35,1746.82 1498.82,1742.07 1500.3,1737.28 1501.77,1732.45 1503.24,1727.55 1504.71,1722.55 1506.19,1717.41 1507.66,1712.12 1509.13,1706.6 1510.6,1700.91 1512.08,1695.12 1513.55,1689.29 1515.02,1683.49 1516.49,1677.78 1517.97,1672.21 1519.44,1666.63 1520.91,1661.1 1522.38,1655.74 1523.86,1650.69 1525.33,1645.93 1526.8,1641.36 1528.27,1636.95 1529.75,1632.66 1531.22,1628.47 1532.69,1624.35 1534.16,1620.39 1535.64,1616.55 1537.11,1612.77 1538.58,1608.98 1540.05,1605.13 1541.53,1601.18 1543,1597.2 1544.47,1593.2 1545.94,1589.16 1547.42,1585.05 1548.89,1580.86 1550.36,1576.59 1551.83,1572.23 1553.31,1567.81 1554.78,1563.33 1556.25,1558.84 1557.72,1554.33 1559.2,1549.77 1560.67,1545.17 1562.14,1540.55 1563.61,1535.92 1565.09,1531.29 1566.56,1526.69 1568.03,1522.09 1569.5,1517.49 1570.98,1512.88 1572.45,1508.28 1573.92,1503.68 1575.39,1499.11 1576.87,1494.59 1578.34,1490.07 1579.81,1485.49 1581.28,1480.82 1582.76,1476 1584.23,1471 1585.7,1465.86 1587.17,1460.64 1588.65,1455.39 1590.12,1450.17 1591.59,1444.97 1593.06,1439.66 1594.54,1434.3 1596.01,1429.03 1597.48,1423.94 1598.95,1419.17 1600.43,1414.63 1601.9,1410.17 1603.37,1405.88 1604.84,1401.85 1606.32,1398.2 1607.79,1395.01 1609.26,1392.08 1610.73,1389.39 1612.21,1387.07 1613.68,1385.23 1615.15,1383.77 1616.62,1382.45 1618.1,1381.38 1619.57,1380.66 1621.04,1380.3 1622.52,1380.03 1623.99,1379.89 1625.46,1380.01 1626.93,1380.41 1628.41,1380.92 1629.88,1381.6 1631.35,1382.53 1632.82,1383.63 1634.3,1384.79 1635.77,1386 1637.24,1387.38 1638.71,1388.83 1640.19,1390.25 1641.66,1391.55 1643.13,1392.8 1644.6,1394.03 1646.08,1395.21 1647.55,1396.35 1649.02,1397.43 1650.49,1398.44 1651.97,1399.37 1653.44,1400.25 1654.91,1401.12 1656.38,1402.03 1657.86,1402.99 1659.33,1403.99 1660.8,1404.99 1662.27,1406.04 1663.75,1407.15 1665.22,1408.38 1666.69,1409.74 1668.16,1411.29 1669.64,1413 1671.11,1414.87 1672.58,1416.88 1674.05,1419 1675.53,1421.27 1677,1423.77 1678.47,1426.48 1679.94,1429.34 1681.42,1432.33 1682.89,1435.39 1684.36,1438.54 1685.83,1441.83 1687.31,1445.25 1688.78,1448.84 1690.25,1452.6 1691.72,1456.54 1693.2,1460.74 1694.67,1465.19 1696.14,1469.83 1697.61,1474.65 1699.09,1479.59 1700.56,1484.65 1702.03,1489.92 1703.5,1495.38 1704.98,1500.99 1706.45,1506.71 1707.92,1512.51 1709.39,1518.45 1710.87,1524.58 1712.34,1530.86 1713.81,1537.2 1715.28,1543.54 1716.76,1549.83 1718.23,1555.99 1719.7,1562 1721.17,1567.95 1722.65,1573.84 1724.12,1579.67 1725.59,1585.44 1727.06,1591.14 1728.54,1596.76 1730.01,1602.3 1731.48,1607.79 1732.95,1613.26 1734.43,1618.74 1735.9,1624.22 1737.37,1629.55 1738.84,1634.81 1740.32,1640.15 1741.79,1645.73 1743.26,1651.69 1744.73,1658.25 1746.21,1665.52 1747.68,1673.29 1749.15,1681.33 1750.62,1689.4 1752.1,1697.3 1753.57,1704.78 1755.04,1711.62 1756.51,1717.87 1757.99,1723.76 1759.46,1729.44 1760.93,1735.07 1762.4,1740.69 1763.88,1746.21 1765.35,1751.49 1766.82,1756.43 1768.29,1761.05 1769.77,1765.45 1771.24,1769.7 1772.71,1773.86 1774.18,1777.93 1775.66,1781.88 1777.13,1785.67 1778.6,1789.27 1780.08,1792.71 1781.55,1796.02 1783.02,1799.26 1784.49,1802.46 1785.97,1805.67 1787.44,1808.84 1788.91,1811.96 1790.38,1815.07 1791.86,1818.17 1793.33,1821.29 1794.8,1824.42 1796.27,1827.54 1797.75,1830.67 1799.22,1833.8 1800.69,1836.93 1802.16,1840.06 1803.64,1843.19 1805.11,1846.32 1806.58,1849.45 1808.05,1852.58 1809.53,1855.71 1811,1858.84 1812.47,1861.96 1813.94,1865.09 1815.42,1868.22 1816.89,1871.36 1818.36,1874.51 1819.83,1877.67 1821.31,1880.81 1822.78,1883.91 1824.25,1886.96 1825.72,1889.99 1827.2,1892.99 1828.67,1895.94 1830.14,1898.82 1831.61,1901.6 1833.09,1904.31 1834.56,1906.98 1836.03,1909.56 1837.5,1912.05 1838.98,1914.42 1840.45,1916.72 1841.92,1918.95 1843.39,1921.09 1844.87,1923.1 1846.34,1924.95 1847.81,1926.64 1849.28,1928.21 1850.76,1929.68 1852.23,1931.07 1853.7,1932.4 1855.17,1933.67 1856.65,1934.88 1858.12,1936.04 1859.59,1937.14 1861.06,1938.21 1862.54,1939.24 1864.01,1940.26 1865.48,1941.26 1866.95,1942.23 1868.43,1943.15 1869.9,1944.03 1871.37,1944.85 1872.84,1945.62 1874.32,1946.35 1875.79,1947.05 1877.26,1947.72 1878.73,1948.35 1880.21,1948.96 1881.68,1949.53 1883.15,1950.08 1884.62,1950.61 1886.1,1951.11 1887.57,1951.59 1889.04,1952.05 1890.51,1952.49 1891.99,1952.91 1893.46,1953.31 1894.93,1953.7 1896.4,1954.07 1897.88,1954.43 1899.35,1954.8 1900.82,1955.16 1902.29,1955.52 1903.77,1955.88 1905.24,1956.24 1906.71,1956.59 1908.18,1956.93 1909.66,1957.27 1911.13,1957.61 1912.6,1957.96 1914.07,1958.3 1915.55,1958.62 1917.02,1958.94 1918.49,1959.23 1919.96,1959.51 1921.44,1959.77 1922.91,1960.02 1924.38,1960.26 1925.85,1960.48 1927.33,1960.7 1928.8,1960.89 1930.27,1961.08 1931.74,1961.26 1933.22,1961.43 1934.69,1961.59 1936.16,1961.75 1937.64,1961.89 1939.11,1962.01 1939.11,1963.8" fill="rgba(0,0,0,0.12)"/>
<polyline points="1204.32,1963.2 1205.79,1963.19 1207.26,1963.19 1208.74,1963.18 1210.21,1963.17 1211.68,1963.16 1213.15,1963.15 1214.63,1963.13 1216.1,1963.11 1217.57,1963.1 1219.04,1963.08 1220.52,1963.06 1221.99,1963.04 1223.46,1963.02 1224.93,1963 1226.41,1962.97 1227.88,1962.93 1229.35,1962.88 1230.82,1962.83 1232.3,1962.78 1233.77,1962.72 1235.24,1962.67 1236.71,1962.61 1238.19,1962.56 1239.66,1962.52 1241.13,1962.48 1242.6,1962.45 1244.08,1962.44 1245.55,1962.43 1247.02,1962.44 1248.49,1962.46 1249.97,1962.49 1251.44,1962.53 1252.91,1962.58 1254.38,1962.63 1255.86,1962.69 1257.33,1962.75 1258.8,1962.81 1260.27,1962.87 1261.75,1962.93 1263.22,1962.99 1264.69,1963.04 1266.16,1963.09 1267.64,1963.13 1269.11,1963.16 1270.58,1963.19 1272.05,1963.2 1273.53,1963.19 1275,1963.16 1276.47,1963.11 1277.94,1963.04 1279.42,1962.96 1280.89,1962.86 1282.36,1962.76 1283.83,1962.65 1285.31,1962.54 1286.78,1962.42 1288.25,1962.31 1289.72,1962.21 1291.2,1962.1 1292.67,1961.99 1294.14,1961.88 1295.61,1961.76 1297.09,1961.63 1298.56,1961.5 1300.03,1961.37 1301.5,1961.23 1302.98,1961.08 1304.45,1960.94 1305.92,1960.78 1307.4,1960.63 1308.87,1960.47 1310.34,1960.3 1311.81,1960.12 1313.29,1959.94 1314.76,1959.74 1316.23,1959.55 1317.7,1959.34 1319.18,1959.13 1320.65,1958.91 1322.12,1958.69 1323.59,1958.46 1325.07,1958.23 1326.54,1958 1328.01,1957.76 1329.48,1957.53 1330.96,1957.29 1332.43,1957.05 1333.9,1956.8 1335.37,1956.54 1336.85,1956.27 1338.32,1955.98 1339.79,1955.67 1341.26,1955.34 1342.74,1954.99 1344.21,1954.58 1345.68,1954.12 1347.15,1953.6 1348.63,1953.05 1350.1,1952.46 1351.57,1951.85 1353.04,1951.21 1354.52,1950.53 1355.99,1949.79 1357.46,1949.01 1358.93,1948.2 1360.41,1947.37 1361.88,1946.52 1363.35,1945.64 1364.82,1944.71 1366.3,1943.75 1367.77,1942.79 1369.24,1941.83 1370.71,1940.88 1372.19,1939.97 1373.66,1939.08 1375.13,1938.2 1376.6,1937.32 1378.08,1936.44 1379.55,1935.57 1381.02,1934.68 1382.49,1933.81 1383.97,1932.96 1385.44,1932.1 1386.91,1931.24 1388.38,1930.35 1389.86,1929.42 1391.33,1928.44 1392.8,1927.44 1394.27,1926.41 1395.75,1925.34 1397.22,1924.22 1398.69,1923.05 1400.16,1921.82 1401.64,1920.53 1403.11,1919.18 1404.58,1917.76 1406.05,1916.26 1407.53,1914.7 1409,1913.05 1410.47,1911.31 1411.94,1909.43 1413.42,1907.44 1414.89,1905.36 1416.36,1903.19 1417.83,1900.98 1419.31,1898.72 1420.78,1896.39 1422.25,1893.95 1423.72,1891.44 1425.2,1888.88 1426.67,1886.29 1428.14,1883.7 1429.61,1881.11 1431.09,1878.48 1432.56,1875.81 1434.03,1873.13 1435.5,1870.46 1436.98,1867.8 1438.45,1865.17 1439.92,1862.56 1441.39,1859.96 1442.87,1857.38 1444.34,1854.82 1445.81,1852.29 1447.28,1849.79 1448.76,1847.31 1450.23,1844.89 1451.7,1842.54 1453.17,1840.28 1454.65,1838.07 1456.12,1835.87 1457.59,1833.67 1459.06,1831.49 1460.54,1829.34 1462.01,1827.19 1463.48,1825.02 1464.96,1822.79 1466.43,1820.46 1467.9,1818.04 1469.37,1815.56 1470.85,1813.01 1472.32,1810.37 1473.79,1807.65 1475.26,1804.83 1476.74,1801.9 1478.21,1798.83 1479.68,1795.63 1481.15,1792.29 1482.63,1788.82 1484.1,1785.23 1485.57,1781.47 1487.04,1777.53 1488.52,1773.45 1489.99,1769.26 1491.46,1764.99 1492.93,1760.62 1494.41,1756.12 1495.88,1751.51 1497.35,1746.82 1498.82,1742.07 1500.3,1737.28 1501.77,1732.45 1503.24,1727.55 1504.71,1722.55 1506.19,1717.41 1507.66,1712.12 1509.13,1706.6 1510.6,1700.91 1512.08,1695.12 1513.55,1689.29 1515.02,1683.49 1516.49,1677.78 1517.97,1672.21 1519.44,1666.63 1520.91,1661.1 1522.38,1655.74 1523.86,1650.69 1525.33,1645.93 1526.8,1641.36 1528.27,1636.95 1529.75,1632.66 1531.22,1628.47 1532.69,1624.35 1534.16,1620.39 1535.64,1616.55 1537.11,1612.77 1538.58,1608.98 1540.05,1605.13 1541.53,1601.18 1543,1597.2 1544.47,1593.2 1545.94,1589.16 1547.42,1585.05 1548.89,1580.86 1550.36,1576.59 1551.83,1572.23 1553.31,1567.81 1554.78,1563.33 1556.25,1558.84 1557.72,1554.33 1559.2,1549.77 1560.67,1545.17 1562.14,1540.55 1563.61,1535.92 1565.09,1531.29 1566.56,1526.69 1568.03,1522.09 1569.5,1517.49 1570.98,1512.88 1572.45,1508.28 1573.92,1503.68 1575.39,1499.11 1576.87,1494.59 1578.34,1490.07 1579.81,1485.49 1581.28,1480.82 1582.76,1476 1584.23,1471 1585.7,1465.86 1587.17,1460.64 1588.65,1455.39 1590.12,1450.17 1591.59,1444.97 1593.06,1439.66 1594.54,1434.3 1596.01,1429.03 1597.48,1423.94 1598.95,1419.17 1600.43,1414.63 1601.9,1410.17 1603.37,1405.88 1604.84,1401.85 1606.32,1398.2 1607.79,1395.01 1609.26,1392.08 1610.73,1389.39 1612.21,1387.07 1613.68,1385.23 1615.15,1383.77 1616.62,1382.45 1618.1,1381.38 1619.57,1380.66 1621.04,1380.3 1622.52,1380.03 1623.99,1379.89 1625.46,1380.01 1626.93,1380.41 1628.41,1380.92 1629.88,1381.6 1631.35,1382.53 1632.82,1383.63 1634.3,1384.79 1635.77,1386 1637.24,1387.38 1638.71,1388.83 1640.19,1390.25 1641.66,1391.55 1643.13,1392.8 1644.6,1394.03 1646.08,1395.21 1647.55,1396.35 1649.02,1397.43 1650.49,1398.44 1651.97,1399.37 1653.44,1400.25 1654.91,1401.12 1656.38,1402.03 1657.86,1402.99 1659.33,1403.99 1660.8,1404.99 1662.27,1406.04 1663.75,1407.15 1665.22,1408.38 1666.69,1409.74 1668.16,1411.29 1669.64,1413 1671.11,1414.87 1672.58,1416.88 1674.05,1419 1675.53,1421.27 1677,1423.77 1678.47,1426.48 1679.94,1429.34 1681.42,1432.33 1682.89,1435.39 1684.36,1438.54 1685.83,1441.83 1687.31,1445.25 1688.78,1448.84 1690.25,1452.6 1691.72,1456.54 1693.2,1460.74 1694.67,1465.19 1696.14,1469.83 1697.61,1474.65 1699.09,1479.59 1700.56,1484.65 1702.03,1489.92 1703.5,1495.38 1704.98,1500.99 1706.45,1506.71 1707.92,1512.51 1709.39,1518.45 1710.87,1524.58 1712.34,1530.86 1713.81,1537.2 1715.28,1543.54 1716.76,1549.83 1718.23,1555.99 1719.7,1562 1721.17,1567.95 1722.65,1573.84 1724.12,1579.67 1725.59,1585.44 1727.06,1591.14 1728.54,1596.76 1730.01,1602.3 1731.48,1607.79 1732.95,1613.26 1734.43,1618.74 1735.9,1624.22 1737.37,1629.55 1738.84,1634.81 1740.32,1640.15 1741.79,1645.73 1743.26,1651.69 1744.73,1658.25 1746.21,1665.52 1747.68,1673.29 1749.15,1681.33 1750.62,1689.4 1752.1,1697.3 1753.57,1704.78 1755.04,1711.62 1756.51,1717.87 1757.99,1723.76 1759.46,1729.44 1760.93,1735.07 1762.4,1740.69 1763.88,1746.21 1765.35,1751.49 1766.82,1756.43 1768.29,1761.05 1769.77,1765.45 1771.24,1769.7 1772.71,1773.86 1774.18,1777.93 1775.66,1781.88 1777.13,1785.67 1778.6,1789.27 1780.08,1792.71 1781.55,1796.02 1783.02,1799.26 1784.49,1802.46 1785.97,1805.67 1787.44,1808.84 1788.91,1811.96 1790.38,1815.07 1791.86,1818.17 1793.33,1821.29 1794.8,1824.42 1796.27,1827.54 1797.75,1830.67 1799.22,1833.8 1800.69,1836.93 1802.16,1840.06 1803.64,1843.19 1805.11,1846.32 1806.58,1849.45 1808.05,1852.58 1809.53,1855.71 1811,1858.84 1812.47,1861.96 1813.94,1865.09 1815.42,1868.22 1816.89,1871.36 1818.36,1874.51 1819.83,1877.67 1821.31,1880.81 1822.78,1883.91 1824.25,1886.96 1825.72,1889.99 1827.2,1892.99 1828.67,1895.94 1830.14,1898.82 1831.61,1901.6 1833.09,1904.31 1834.56,1906.98 1836.03,1909.56 1837.5,1912.05 1838.98,1914.42 1840.45,1916.72 1841.92,1918.95 1843.39,1921.09 1844.87,1923.1 1846.34,1924.95 1847.81,1926.64 1849.28,1928.21 1850.76,1929.68 1852.23,1931.07 1853.7,1932.4 1855.17,1933.67 1856.65,1934.88 1858.12,1936.04 1859.59,1937.14 1861.06,1938.21 1862.54,1939.24 1864.01,1940.26 1865.48,1941.26 1866.95,1942.23 1868.43,1943.15 1869.9,1944.03 1871.37,1944.85 1872.84,1945.62 1874.32,1946.35 1875.79,1947.05 1877.26,1947.72 1878.73,1948.35 1880.21,1948.96 1881.68,1949.53 1883.15,1950.08 1884.62,1950.61 1886.1,1951.11 1887.57,1951.59 1889.04,1952.05 1890.51,1952.49 1891.99,1952.91 1893.46,1953.31 1894.93,1953.7 1896.4,1954.07 1897.88,1954.43 1899.35,1954.8 1900.82,1955.16 1902.29,1955.52 1903.77,1955.88 1905.24,1956.24 1906.71,1956.59 1908.18,1956.93 1909.66,1957.27 1911.13,1957.61 1912.6,1957.96 1914.07,1958.3 1915.55,1958.62 1917.02,1958.94 1918.49,1959.23 1919.96,1959.51 1921.44,1959.77 1922.91,1960.02 1924.38,1960.26 1925.85,1960.48 1927.33,1960.7 1928.8,1960.89 1930.27,1961.08 1931.74,1961.26 1933.22,1961.43 1934.69,1961.59 1936.16,1961.75 1937.64,1961.89 1939.11,1962.01" fill="none" stroke="#383838" stroke-width="4.45" stroke-linejoin="round" stroke-linecap="round"/>
<line x1="1629.1" y1="1993" x2="1629.1" y2="1351.6" stroke="#7f0000" stroke-width="5.8" stroke-dasharray="5.8 17.33"/>
</g>
<rect x="1169.72" y="1352.72" width="804.35" height="639.15" fill="none" stroke="#222222" stroke-width="2.25"/>
<path d="M1157.2 1963.8H1168.6M1157.2 1767.15H1168.6M1157.2 1570.5H1168.6M1157.2 1373.85H1168.6M1272.4 1993V2004.4M1451 1993V2004.4M1629.6 1993V2004.4M1808.2 1993V2004.4" stroke="#262626" stroke-width="4.45" fill="none"/>
<g font-size="37.2" fill="#404040">
<text transform="translate(1136,1978.45) scale(1,1.065)" text-anchor="end">0</text>
<text transform="translate(1136,1781.8) scale(1,1.065)" text-anchor="end">5</text>
<text transform="translate(1136,1585.15) scale(1,1.065)" text-anchor="end">10</text>
<text transform="translate(1136,1388.5) scale(1,1.065)" text-anchor="end">15</text>
<text transform="translate(1272.4,2056.6) scale(1,1.065)" text-anchor="middle">0.70</text>
<text transform="translate(1451,2056.6) scale(1,1.065)" text-anchor="middle">0.75</text>
<text transform="translate(1629.6,2056.6) scale(1,1.065)" text-anchor="middle">0.80</text>
<text transform="translate(1808.2,2056.6) scale(1,1.065)" text-anchor="middle">0.85</text>
</g>
<text x="1168.1" y="1325" font-size="45.83" font-weight="bold" fill="#000000">Sample: 825 | M = 0.8 | SD = 0.03</text>
<text x="1571.9" y="2111.2" font-size="41.67" fill="#000000" text-anchor="middle">Statistic Value</text>
<text transform="translate(1054,1672.3) rotate(-90)" font-size="41.67" fill="#000000" text-anchor="middle">Density</text>
<clipPath id="cb2"><rect x="2170.4" y="1351.6" width="806.6" height="641.4"/></clipPath>
<g id="panel-p3" clip-path="url(#cb2)">
<path d="M2211.6 1351.6V1993M2314.4 1351.6V1993M2417.2 1351.6V1993M2520 1351.6V1993M2622.8 1351.6V1993M2725.6 1351.6V1993M2828.4 1351.6V1993M2931.2 1351.6V1993M2170.4 1963.8H2977M2170.4 1879.3H2977M2170.4 1794.8H2977M2170.4 1710.3H2977M2170.4 1625.8H2977M2170.4 1541.3H2977M2170.4 1456.8H2977M2170.4 1372.3H2977" stroke="#e5e5e5" stroke-width="0.9" fill="none"/>
<polygon points="2206.8,1963.8 2206.8,1963.2 2208.27,1963.15 2209.74,1963.11 2211.21,1963.06 2212.69,1963.03 2214.16,1962.99 2215.63,1962.96 2217.1,1962.93 2218.57,1962.9 2220.04,1962.88 2221.51,1962.86 2222.99,1962.84 2224.46,1962.83 2225.93,1962.82 2227.4,1962.81 2228.87,1962.81 2230.34,1962.82 2231.81,1962.83 2233.29,1962.85 2234.76,1962.87 2236.23,1962.9 2237.7,1962.92 2239.17,1962.95 2240.64,1962.99 2242.11,1963.02 2243.58,1963.05 2245.06,1963.08 2246.53,1963.11 2248,1963.13 2249.47,1963.15 2250.94,1963.17 2252.41,1963.19 2253.88,1963.19 2255.36,1963.19 2256.83,1963.17 2258.3,1963.11 2259.77,1963.04 2261.24,1962.94 2262.71,1962.83 2264.18,1962.71 2265.66,1962.59 2267.13,1962.47 2268.6,1962.35 2270.07,1962.25 2271.54,1962.15 2273.01,1962.03 2274.48,1961.91 2275.95,1961.79 2277.43,1961.66 2278.9,1961.54 2280.37,1961.41 2281.84,1961.3 2283.31,1961.19 2284.78,1961.09 2286.25,1961.01 2287.73,1960.95 2289.2,1960.91 2290.67,1960.88 2292.14,1960.86 2293.61,1960.84 2295.08,1960.83 2296.55,1960.82 2298.03,1960.81 2299.5,1960.79 2300.97,1960.78 2302.44,1960.76 2303.91,1960.73 2305.38,1960.69 2306.85,1960.6 2308.33,1960.48 2309.8,1960.34 2311.27,1960.17 2312.74,1959.98 2314.21,1959.79 2315.68,1959.59 2317.15,1959.36 2318.62,1959.1 2320.1,1958.81 2321.57,1958.5 2323.04,1958.18 2324.51,1957.83 2325.98,1957.46 2327.45,1957.05 2328.92,1956.61 2330.4,1956.15 2331.87,1955.68 2333.34,1955.19 2334.81,1954.7 2336.28,1954.2 2337.75,1953.67 2339.22,1953.12 2340.7,1952.55 2342.17,1951.97 2343.64,1951.38 2345.11,1950.79 2346.58,1950.2 2348.05,1949.61 2349.52,1949.02 2351,1948.41 2352.47,1947.81 2353.94,1947.19 2355.41,1946.57 2356.88,1945.93 2358.35,1945.29 2359.82,1944.65 2361.29,1944.03 2362.77,1943.4 2364.24,1942.75 2365.71,1942.07 2367.18,1941.34 2368.65,1940.56 2370.12,1939.7 2371.59,1938.73 2373.07,1937.67 2374.54,1936.52 2376.01,1935.3 2377.48,1934.03 2378.95,1932.65 2380.42,1931.16 2381.89,1929.58 2383.37,1927.93 2384.84,1926.23 2386.31,1924.43 2387.78,1922.54 2389.25,1920.57 2390.72,1918.54 2392.19,1916.48 2393.66,1914.37 2395.14,1912.18 2396.61,1909.95 2398.08,1907.7 2399.55,1905.46 2401.02,1903.24 2402.49,1900.99 2403.96,1898.73 2405.44,1896.51 2406.91,1894.36 2408.38,1892.3 2409.85,1890.32 2411.32,1888.4 2412.79,1886.52 2414.26,1884.65 2415.74,1882.78 2417.21,1880.89 2418.68,1879 2420.15,1877.15 2421.62,1875.3 2423.09,1873.42 2424.56,1871.5 2426.04,1869.49 2427.51,1867.37 2428.98,1865.15 2430.45,1862.83 2431.92,1860.44 2433.39,1858.02 2434.86,1855.57 2436.33,1853.14 2437.81,1850.66 2439.28,1848.13 2440.75,1845.58 2442.22,1843.02 2443.69,1840.51 2445.16,1838.07 2446.63,1835.73 2448.11,1833.5 2449.58,1831.35 2451.05,1829.22 2452.52,1827.07 2453.99,1824.86 2455.46,1822.53 2456.93,1820.16 2458.41,1817.75 2459.88,1815.25 2461.35,1812.59 2462.82,1809.7 2464.29,1806.48 2465.76,1802.9 2467.23,1799.06 2468.71,1795.08 2470.18,1790.97 2471.65,1786.67 2473.12,1782.14 2474.59,1777.39 2476.06,1772.3 2477.53,1766.91 2479,1761.34 2480.48,1755.71 2481.95,1749.92 2483.42,1744 2484.89,1738.03 2486.36,1732.11 2487.83,1726.1 2489.3,1720.09 2490.78,1714.27 2492.25,1708.79 2493.72,1703.53 2495.19,1698.45 2496.66,1693.49 2498.13,1688.66 2499.6,1683.91 2501.08,1679.23 2502.55,1674.63 2504.02,1670.13 2505.49,1665.71 2506.96,1661.38 2508.43,1657.12 2509.9,1652.95 2511.37,1648.95 2512.85,1645.05 2514.32,1641.2 2515.79,1637.34 2517.26,1633.41 2518.73,1629.34 2520.2,1625.09 2521.67,1620.7 2523.15,1616.18 2524.62,1611.56 2526.09,1606.84 2527.56,1602.04 2529.03,1597.13 2530.5,1592.06 2531.97,1586.88 2533.45,1581.64 2534.92,1576.41 2536.39,1571.22 2537.86,1566.04 2539.33,1560.83 2540.8,1555.62 2542.27,1550.46 2543.75,1545.37 2545.22,1540.39 2546.69,1535.53 2548.16,1530.74 2549.63,1526 2551.1,1521.28 2552.57,1516.54 2554.04,1511.78 2555.52,1507.09 2556.99,1502.42 2558.46,1497.7 2559.93,1492.87 2561.4,1487.86 2562.87,1482.59 2564.34,1477.08 2565.82,1471.44 2567.29,1465.78 2568.76,1460.21 2570.23,1454.81 2571.7,1449.41 2573.17,1444.02 2574.64,1438.72 2576.12,1433.63 2577.59,1428.85 2579.06,1424.42 2580.53,1420.16 2582,1416.08 2583.47,1412.22 2584.94,1408.63 2586.42,1405.34 2587.89,1402.28 2589.36,1399.34 2590.83,1396.58 2592.3,1394.06 2593.77,1391.85 2595.24,1390.01 2596.71,1388.36 2598.19,1386.84 2599.66,1385.47 2601.13,1384.31 2602.6,1383.39 2604.07,1382.69 2605.54,1382.06 2607.01,1381.48 2608.49,1381 2609.96,1380.67 2611.43,1380.52 2612.9,1380.58 2614.37,1380.8 2615.84,1381.16 2617.31,1381.61 2618.79,1382.13 2620.26,1382.69 2621.73,1383.47 2623.2,1384.54 2624.67,1385.8 2626.14,1387.17 2627.61,1388.56 2629.08,1389.89 2630.56,1391.23 2632.03,1392.63 2633.5,1394.09 2634.97,1395.63 2636.44,1397.26 2637.91,1399.01 2639.38,1400.92 2640.86,1402.95 2642.33,1405.05 2643.8,1407.19 2645.27,1409.32 2646.74,1411.45 2648.21,1413.61 2649.68,1415.81 2651.16,1418.04 2652.63,1420.31 2654.1,1422.6 2655.57,1424.9 2657.04,1427.24 2658.51,1429.61 2659.98,1432.04 2661.46,1434.53 2662.93,1437.1 2664.4,1439.7 2665.87,1442.37 2667.34,1445.13 2668.81,1448 2670.28,1451.01 2671.75,1454.16 2673.23,1457.46 2674.7,1460.9 2676.17,1464.49 2677.64,1468.22 2679.11,1472.09 2680.58,1476.1 2682.05,1480.29 2683.53,1484.66 2685,1489.25 2686.47,1494.06 2687.94,1499.18 2689.41,1504.74 2690.88,1510.65 2692.35,1516.75 2693.83,1522.92 2695.3,1529 2696.77,1534.98 2698.24,1540.98 2699.71,1547.01 2701.18,1553.08 2702.65,1559.22 2704.13,1565.45 2705.6,1571.84 2707.07,1578.35 2708.54,1584.91 2710.01,1591.41 2711.48,1597.78 2712.95,1603.94 2714.42,1609.98 2715.9,1615.92 2717.37,1621.77 2718.84,1627.56 2720.31,1633.28 2721.78,1638.93 2723.25,1644.46 2724.72,1649.93 2726.2,1655.38 2727.67,1660.87 2729.14,1666.44 2730.61,1672.15 2732.08,1677.97 2733.55,1683.84 2735.02,1689.7 2736.5,1695.47 2737.97,1701.09 2739.44,1706.49 2740.91,1711.6 2742.38,1716.46 2743.85,1721.25 2745.32,1726.15 2746.79,1731.23 2748.27,1736.39 2749.74,1741.58 2751.21,1746.75 2752.68,1751.93 2754.15,1757.11 2755.62,1762.26 2757.09,1767.33 2758.57,1772.34 2760.04,1777.3 2761.51,1782.15 2762.98,1786.83 2764.45,1791.36 2765.92,1795.76 2767.39,1800.09 2768.87,1804.38 2770.34,1808.65 2771.81,1812.85 2773.28,1816.93 2774.75,1820.86 2776.22,1824.67 2777.69,1828.39 2779.17,1832.02 2780.64,1835.58 2782.11,1839.08 2783.58,1842.49 2785.05,1845.84 2786.52,1849.13 2787.99,1852.37 2789.46,1855.56 2790.94,1858.72 2792.41,1861.85 2793.88,1864.92 2795.35,1867.92 2796.82,1870.82 2798.29,1873.61 2799.76,1876.33 2801.24,1878.98 2802.71,1881.57 2804.18,1884.1 2805.65,1886.59 2807.12,1889.04 2808.59,1891.44 2810.06,1893.8 2811.54,1896.1 2813.01,1898.36 2814.48,1900.57 2815.95,1902.73 2817.42,1904.83 2818.89,1906.89 2820.36,1908.92 2821.84,1910.92 2823.31,1912.91 2824.78,1914.9 2826.25,1916.87 2827.72,1918.82 2829.19,1920.74 2830.66,1922.63 2832.13,1924.48 2833.61,1926.28 2835.08,1928.07 2836.55,1929.85 2838.02,1931.6 2839.49,1933.28 2840.96,1934.87 2842.43,1936.36 2843.91,1937.75 2845.38,1939.09 2846.85,1940.36 2848.32,1941.53 2849.79,1942.57 2851.26,1943.48 2852.73,1944.31 2854.21,1945.06 2855.68,1945.76 2857.15,1946.4 2858.62,1947 2860.09,1947.56 2861.56,1948.1 2863.03,1948.6 2864.5,1949.08 2865.98,1949.54 2867.45,1949.98 2868.92,1950.41 2870.39,1950.83 2871.86,1951.23 2873.33,1951.62 2874.8,1951.99 2876.28,1952.36 2877.75,1952.71 2879.22,1953.05 2880.69,1953.38 2882.16,1953.71 2883.63,1954.03 2885.1,1954.34 2886.58,1954.64 2888.05,1954.94 2889.52,1955.22 2890.99,1955.49 2892.46,1955.73 2893.93,1955.97 2895.4,1956.18 2896.88,1956.38 2898.35,1956.58 2899.82,1956.76 2901.29,1956.95 2902.76,1957.14 2904.23,1957.33 2905.7,1957.53 2907.17,1957.75 2908.65,1957.98 2910.12,1958.22 2911.59,1958.47 2913.06,1958.73 2914.53,1959 2916,1959.26 2917.47,1959.53 2918.95,1959.8 2920.42,1960.06 2921.89,1960.32 2923.36,1960.57 2924.83,1960.82 2926.3,1961.08 2927.77,1961.33 2929.25,1961.58 2930.72,1961.8 2932.19,1961.99 2933.66,1962.15 2935.13,1962.31 2936.6,1962.45 2938.07,1962.58 2939.55,1962.69 2941.02,1962.78 2941.02,1963.8" fill="rgba(0,0,0,0.12)"/>
<polyline points="2206.8,1963.2 2208.27,1963.15 2209.74,1963.11 2211.21,1963.06 2212.69,1963.03 2214.16,1962.99 2215.63,1962.96 2217.1,1962.93 2218.57,1962.9 2220.04,1962.88 2221.51,1962.86 2222.99,1962.84 2224.46,1962.83 2225.93,1962.82 2227.4,1962.81 2228.87,1962.81 2230.34,1962.82 2231.81,1962.83 2233.29,1962.85 2234.76,1962.87 2236.23,1962.9 2237.7,1962.92 2239.17,1962.95 2240.64,1962.99 2242.11,1963.02 2243.58,1963.05 2245.06,1963.08 2246.53,1963.11 2248,1963.13 2249.47,1963.15 2250.94,1963.17 2252.41,1963.19 2253.88,1963.19 2255.36,1963.19 2256.83,1963.17 2258.3,1963.11 2259.77,1963.04 2261.24,1962.94 2262.71,1962.83 2264.18,1962.71 2265.66,1962.59 2267.13,1962.47 2268.6,1962.35 2270.07,1962.25 2271.54,1962.15 2273.01,1962.03 2274.48,1961.91 2275.95,1961.79 2277.43,1961.66 2278.9,1961.54 2280.37,1961.41 2281.84,1961.3 2283.31,1961.19 2284.78,1961.09 2286.25,1961.01 2287.73,1960.95 2289.2,1960.91 2290.67,1960.88 2292.14,1960.86 2293.61,1960.84 2295.08,1960.83 2296.55,1960.82 2298.03,1960.81 2299.5,1960.79 2300.97,1960.78 2302.44,1960.76 2303.91,1960.73 2305.38,1960.69 2306.85,1960.6 2308.33,1960.48 2309.8,1960.34 2311.27,1960.17 2312.74,1959.98 2314.21,1959.79 2315.68,1959.59 2317.15,1959.36 2318.62,1959.1 2320.1,1958.81 2321.57,1958.5 2323.04,1958.18 2324.51,1957.83 2325.98,1957.46 2327.45,1957.05 2328.92,1956.61 2330.4,1956.15 2331.87,1955.68 2333.34,1955.19 2334.81,1954.7 2336.28,1954.2 2337.75,1953.67 2339.22,1953.12 2340.7,1952.55 2342.17,1951.97 2343.64,1951.38 2345.11,1950.79 2346.58,1950.2 2348.05,1949.61 2349.52,1949.02 2351,1948.41 2352.47,1947.81 2353.94,1947.19 2355.41,1946.57 2356.88,1945.93 2358.35,1945.29 2359.82,1944.65 2361.29,1944.03 2362.77,1943.4 2364.24,1942.75 2365.71,1942.07 2367.18,1941.34 2368.65,1940.56 2370.12,1939.7 2371.59,1938.73 2373.07,1937.67 2374.54,1936.52 2376.01,1935.3 2377.48,1934.03 2378.95,1932.65 2380.42,1931.16 2381.89,1929.58 2383.37,1927.93 2384.84,1926.23 2386.31,1924.43 2387.78,1922.54 2389.25,1920.57 2390.72,1918.54 2392.19,1916.48 2393.66,1914.37 2395.14,1912.18 2396.61,1909.95 2398.08,1907.7 2399.55,1905.46 2401.02,1903.24 2402.49,1900.99 2403.96,1898.73 2405.44,1896.51 2406.91,1894.36 2408.38,1892.3 2409.85,1890.32 2411.32,1888.4 2412.79,1886.52 2414.26,1884.65 2415.74,1882.78 2417.21,1880.89 2418.68,1879 2420.15,1877.15 2421.62,1875.3 2423.09,1873.42 2424.56,1871.5 2426.04,1869.49 2427.51,1867.37 2428.98,1865.15 2430.45,1862.83 2431.92,1860.44 2433.39,1858.02 2434.86,1855.57 2436.33,1853.14 2437.81,1850.66 2439.28,1848.13 2440.75,1845.58 2442.22,1843.02 2443.69,1840.51 2445.16,1838.07 2446.63,1835.73 2448.11,1833.5 2449.58,1831.35 2451.05,1829.22 2452.52,1827.07 2453.99,1824.86 2455.46,1822.53 2456.93,1820.16 2458.41,1817.75 2459.88,1815.25 2461.35,1812.59 2462.82,1809.7 2464.29,1806.48 2465.76,1802.9 2467.23,1799.06 2468.71,1795.08 2470.18,1790.97 2471.65,1786.67 2473.12,1782.14 2474.59,1777.39 2476.06,1772.3 2477.53,1766.91 2479,1761.34 2480.48,1755.71 2481.95,1749.92 2483.42,1744 2484.89,1738.03 2486.36,1732.11 2487.83,1726.1 2489.3,1720.09 2490.78,1714.27 2492.25,1708.79 2493.72,1703.53 2495.19,1698.45 2496.66,1693.49 2498.13,1688.66 2499.6,1683.91 2501.08,1679.23 2502.55,1674.63 2504.02,1670.13 2505.49,1665.71 2506.96,1661.38 2508.43,1657.12 2509.9,1652.95 2511.37,1648.95 2512.85,1645.05 2514.32,1641.2 2515.79,1637.34 2517.26,1633.41 2518.73,1629.34 2520.2,1625.09 2521.67,1620.7 2523.15,1616.18 2524.62,1611.56 2526.09,1606.84 2527.56,1602.04 2529.03,1597.13 2530.5,1592.06 2531.97,1586.88 2533.45,1581.64 2534.92,1576.41 2536.39,1571.22 2537.86,1566.04 2539.33,1560.83 2540.8,1555.62 2542.27,1550.46 2543.75,1545.37 2545.22,1540.39 2546.69,1535.53 2548.16,1530.74 2549.63,1526 2551.1,1521.28 2552.57,1516.54 2554.04,1511.78 2555.52,1507.09 2556.99,1502.42 2558.46,1497.7 2559.93,1492.87 2561.4,1487.86 2562.87,1482.59 2564.34,1477.08 2565.82,1471.44 2567.29,1465.78 2568.76,1460.21 2570.23,1454.81 2571.7,1449.41 2573.17,1444.02 2574.64,1438.72 2576.12,1433.63 2577.59,1428.85 2579.06,1424.42 2580.53,1420.16 2582,1416.08 2583.47,1412.22 2584.94,1408.63 2586.42,1405.34 2587.89,1402.28 2589.36,1399.34 2590.83,1396.58 2592.3,1394.06 2593.77,1391.85 2595.24,1390.01 2596.71,1388.36 2598.19,1386.84 2599.66,1385.47 2601.13,1384.31 2602.6,1383.39 2604.07,1382.69 2605.54,1382.06 2607.01,1381.48 2608.49,1381 2609.96,1380.67 2611.43,1380.52 2612.9,1380.58 2614.37,1380.8 2615.84,1381.16 2617.31,1381.61 2618.79,1382.13 2620.26,1382.69 2621.73,1383.47 2623.2,1384.54 2624.67,1385.8 2626.14,1387.17 2627.61,1388.56 2629.08,1389.89 2630.56,1391.23 2632.03,1392.63 2633.5,1394.09 2634.97,1395.63 2636.44,1397.26 2637.91,1399.01 2639.38,1400.92 2640.86,1402.95 2642.33,1405.05 2643.8,1407.19 2645.27,1409.32 2646.74,1411.45 2648.21,1413.61 2649.68,1415.81 2651.16,1418.04 2652.63,1420.31 2654.1,1422.6 2655.57,1424.9 2657.04,1427.24 2658.51,1429.61 2659.98,1432.04 2661.46,1434.53 2662.93,1437.1 2664.4,1439.7 2665.87,1442.37 2667.34,1445.13 2668.81,1448 2670.28,1451.01 2671.75,1454.16 2673.23,1457.46 2674.7,1460.9 2676.17,1464.49 2677.64,1468.22 2679.11,1472.09 2680.58,1476.1 2682.05,1480.29 2683.53,1484.66 2685,1489.25 2686.47,1494.06 2687.94,1499.18 2689.41,1504.74 2690.88,1510.65 2692.35,1516.75 2693.83,1522.92 2695.3,1529 2696.77,1534.98 2698.24,1540.98 2699.71,1547.01 2701.18,1553.08 2702.65,1559.22 2704.13,1565.45 2705.6,1571.84 2707.07,1578.35 2708.54,1584.91 2710.01,1591.41 2711.48,1597.78 2712.95,1603.94 2714.42,1609.98 2715.9,1615.92 2717.37,1621.77 2718.84,1627.56 2720.31,1633.28 2721.78,1638.93 2723.25,1644.46 2724.72,1649.93 2726.2,1655.38 2727.67,1660.87 2729.14,1666.44 2730.61,1672.15 2732.08,1677.97 2733.55,1683.84 2735.02,1689.7 2736.5,1695.47 2737.97,1701.09 2739.44,1706.49 2740.91,1711.6 2742.38,1716.46 2743.85,1721.25 2745.32,1726.15 2746.79,1731.23 2748.27,1736.39 2749.74,1741.58 2751.21,1746.75 2752.68,1751.93 2754.15,1757.11 2755.62,1762.26 2757.09,1767.33 2758.57,1772.34 2760.04,1777.3 2761.51,1782.15 2762.98,1786.83 2764.45,1791.36 2765.92,1795.76 2767.39,1800.09 2768.87,1804.38 2770.34,1808.65 2771.81,1812.85 2773.28,1816.93 2774.75,1820.86 2776.22,1824.67 2777.69,1828.39 2779.17,1832.02 2780.64,1835.58 2782.11,1839.08 2783.58,1842.49 2785.05,1845.84 2786.52,1849.13 2787.99,1852.37 2789.46,1855.56 2790.94,1858.72 2792.41,1861.85 2793.88,1864.92 2795.35,1867.92 2796.82,1870.82 2798.29,1873.61 2799.76,1876.33 2801.24,1878.98 2802.71,1881.57 2804.18,1884.1 2805.65,1886.59 2807.12,1889.04 2808.59,1891.44 2810.06,1893.8 2811.54,1896.1 2813.01,1898.36 2814.48,1900.57 2815.95,1902.73 2817.42,1904.83 2818.89,1906.89 2820.36,1908.92 2821.84,1910.92 2823.31,1912.91 2824.78,1914.9 2826.25,1916.87 2827.72,1918.82 2829.19,1920.74 2830.66,1922.63 2832.13,1924.48 2833.61,1926.28 2835.08,1928.07 2836.55,1929.85 2838.02,1931.6 2839.49,1933.28 2840.96,1934.87 2842.43,1936.36 2843.91,1937.75 2845.38,1939.09 2846.85,1940.36 2848.32,1941.53 2849.79,1942.57 2851.26,1943.48 2852.73,1944.31 2854.21,1945.06 2855.68,1945.76 2857.15,1946.4 2858.62,1947 2860.09,1947.56 2861.56,1948.1 2863.03,1948.6 2864.5,1949.08 2865.98,1949.54 2867.45,1949.98 2868.92,1950.41 2870.39,1950.83 2871.86,1951.23 2873.33,1951.62 2874.8,1951.99 2876.28,1952.36 2877.75,1952.71 2879.22,1953.05 2880.69,1953.38 2882.16,1953.71 2883.63,1954.03 2885.1,1954.34 2886.58,1954.64 2888.05,1954.94 2889.52,1955.22 2890.99,1955.49 2892.46,1955.73 2893.93,1955.97 2895.4,1956.18 2896.88,1956.38 2898.35,1956.58 2899.82,1956.76 2901.29,1956.95 2902.76,1957.14 2904.23,1957.33 2905.7,1957.53 2907.17,1957.75 2908.65,1957.98 2910.12,1958.22 2911.59,1958.47 2913.06,1958.73 2914.53,1959 2916,1959.26 2917.47,1959.53 2918.95,1959.8 2920.42,1960.06 2921.89,1960.32 2923.36,1960.57 2924.83,1960.82 2926.3,1961.08 2927.77,1961.33 2929.25,1961.58 2930.72,1961.8 2932.19,1961.99 2933.66,1962.15 2935.13,1962.31 2936.6,1962.45 2938.07,1962.58 2939.55,1962.69 2941.02,1962.78" fill="none" stroke="#383838" stroke-width="4.45" stroke-linejoin="round" stroke-linecap="round"/>
<line x1="2615.3" y1="1993" x2="2615.3" y2="1351.6" stroke="#7f0000" stroke-width="5.8" stroke-dasharray="5.8 17.33"/>
</g>
<rect x="2171.53" y="1352.72" width="804.35" height="639.15" fill="none" stroke="#222222" stroke-width="2.25"/>
<path d="M2159 1963.8H2170.4M2159 1794.8H2170.4M2159 1625.8H2170.4M2159 1456.8H2170.4M2211.6 1993V2004.4M2417.2 1993V2004.4M2622.8 1993V2004.4M2828.4 1993V2004.4" stroke="#262626" stroke-width="4.45" fill="none"/>
<g font-size="37.2" fill="#404040">
<text transform="translate(2137.8,1978.45) scale(1,1.065)" text-anchor="end">0</text>
<text transform="translate(2137.8,1809.45) scale(1,1.065)" text-anchor="end">5</text>
<text transform="translate(2137.8,1640.45) scale(1,1.065)" text-anchor="end">10</text>
<text transform="translate(2137.8,1471.45) scale(1,1.065)" text-anchor="end">15</text>
<text transform="translate(2211.6,2056.6) scale(1,1.065)" text-anchor="middle">0.75</text>
<text transform="translate(2417.2,2056.6) scale(1,1.065)" text-anchor="middle">0.80</text>
<text transform="translate(2622.8,2056.6) scale(1,1.065)" text-anchor="middle">0.85</text>
<text transform="translate(2828.4,2056.6) scale(1,1.065)" text-anchor="middle">0.90</text>
</g>
<text x="2169.9" y="1325" font-size="45.83" font-weight="bold" fill="#000000">Sample: 878 | M = 0.85 | SD = 0.02</text>
<text x="2573.7" y="2111.2" font-size="41.67" fill="#000000" text-anchor="middle">Statistic Value</text>
<text transform="translate(2055.8,1672.3) rotate(-90)" font-size="41.67" fill="#000000" text-anchor="middle">Density</text>
</svg>
</body>
</html>
